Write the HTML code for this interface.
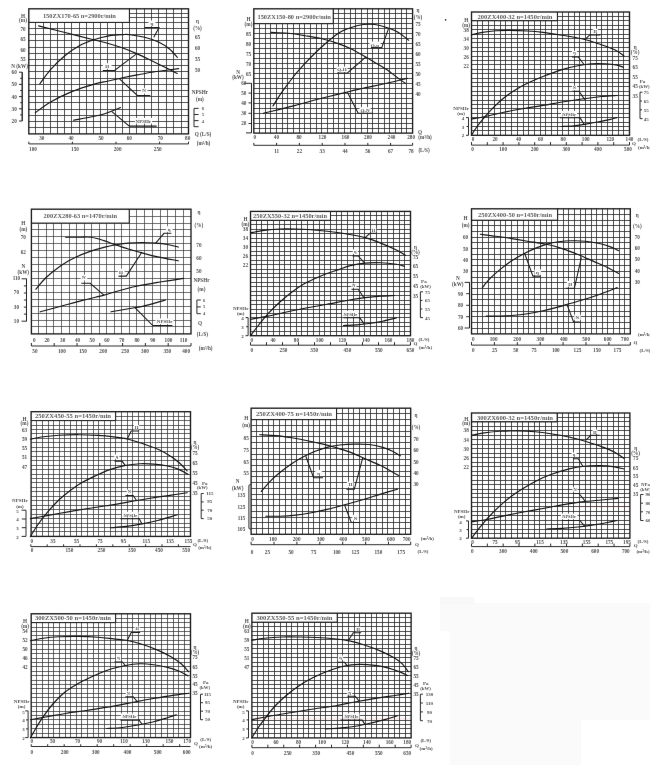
<!DOCTYPE html>
<html lang="zh"><head><meta charset="utf-8"><title>ZX pump performance curves</title>
<style>
html,body{margin:0;padding:0;background:#fff}
body{width:650px;height:765px;overflow:hidden;position:relative;font-family:"Liberation Serif","Noto Serif CJK SC",serif}
svg{position:absolute;left:0;top:0;display:block}
.g{fill:none}
.fr{fill:none;stroke:#1c1c1c}
.cv{fill:none;stroke:#161616;stroke-width:1.15;stroke-linecap:round;stroke-linejoin:round}
.ld{fill:none;stroke:#1c1c1c;stroke-width:1.05;stroke-linejoin:miter}
.ax{fill:none;stroke:#222;stroke-width:0.95}
.t{font-family:"Liberation Serif",serif;font-weight:bold;fill:#4e4e4e}
.s{font-family:"Liberation Serif",serif;font-weight:bold;fill:#5c5c5c}
</style></head><body>
<svg width="650" height="765" viewBox="0 0 650 765">
<defs><filter id="b" x="-2%" y="-2%" width="104%" height="104%"><feConvolveMatrix order="3" kernelMatrix="0.0009 0.0278 0.0009 0.0278 0.8852 0.0278 0.0009 0.0278 0.0009" divisor="1" edgeMode="none"/></filter></defs>
<rect width="650" height="765" fill="#fff"/>
<rect x="440" y="603" width="210" height="162" fill="#fafafa"/><rect x="440" y="597" width="34" height="7" fill="#f8f8f8"/><rect x="440" y="631" width="10" height="134" fill="#fff"/><rect x="581" y="720" width="69" height="45" fill="#fff"/><circle cx="445.6" cy="19.8" r="0.9" fill="#444"/>
<g filter="url(#b)">
<g>
<path class="g" d="M35.5 22.4V133.9M43.5 22.4V133.9M50.5 22.4V133.9M57.5 22.4V133.9M64.5 22.4V133.9M71.5 22.4V133.9M79.5 22.4V133.9M86.5 22.4V133.9M93.5 22.4V133.9M100.5 22.4V133.9M107.5 22.4V133.9M115.5 22.4V133.9M122.5 22.4V133.9M129.5 8.8V133.9M136.5 8.8V133.9M144.5 8.8V133.9M151.5 8.8V133.9M158.5 8.8V133.9M166.5 8.8V133.9M173.5 8.8V133.9M181.5 8.8V133.9M129.4 13.5H188.5M129.4 17.5H188.5M28.8 22.5H188.5M28.8 28.5H188.5M28.8 34.5H188.5M28.8 40.5H188.5M28.8 47.5H188.5M28.8 53.5H188.5M28.8 59.5H188.5M28.8 65.5H188.5M28.8 71.5H188.5M28.8 78.5H188.5M28.8 84.5H188.5M28.8 90.5H188.5M28.8 96.5H188.5M28.8 102.5H188.5M28.8 109.5H188.5M28.8 115.5H188.5M28.8 121.5H188.5M28.8 127.5H188.5" stroke="#262626" stroke-width="0.78"/>
<rect class="fr" x="28.8" y="8.8" width="159.7" height="125.1" stroke-width="1.35"/>
<path class="fr" d="M129.4 8.8V22.4M28.8 22.4H129.4" stroke-width="0.95"/>
<rect x="148.5" y="20.6" width="7" height="5.2" fill="#fbfbfb"/>
<rect x="103" y="63.2" width="8.5" height="5.6" fill="#fbfbfb"/>
<rect x="141" y="88.2" width="6.5" height="5.4" fill="#fbfbfb"/>
<rect x="135" y="118" width="17" height="5.6" fill="#fbfbfb"/>
<path class="ld" d="M153.8 37.3L159 27.5L144.6 27.5"/>
<path class="ld" d="M136.5 53.9L114.2 70.6L102.8 70.6"/>
<path class="ld" d="M119.5 78.8L137.3 95.5L150.3 95.5"/>
<path class="ld" d="M111.6 111.4L129.3 126.1L156.7 126.1"/>
<path class="cv" d="M38.6 25.9C43 27 55.85 30.18 65 32.5C74.15 34.82 86.28 37.97 93.5 39.8C100.72 41.63 103.42 42.13 108.3 43.5C113.18 44.87 117.97 46.27 122.8 48C127.63 49.73 132.47 51.77 137.3 53.9C142.13 56.03 146.93 58.45 151.8 60.8C156.67 63.15 162.25 65.88 166.5 68C170.75 70.12 175.5 72.58 177.3 73.5"/>
<path class="cv" d="M39.8 83.9C41.6 81.52 46.38 74.33 50.6 69.6C54.82 64.87 60.23 59.52 65.1 55.5C69.97 51.48 75.03 48.12 79.8 45.5C84.57 42.88 88.87 41.4 93.7 39.8C98.53 38.2 103.92 36.77 108.8 35.9C113.68 35.03 119.47 34.8 123 34.6C126.53 34.4 126.4 34.25 130 34.7C133.6 35.15 139.77 36.05 144.6 37.3C149.43 38.55 154.85 40.25 159 42.2C163.15 44.15 166.45 46.48 169.5 49C172.55 51.52 176 55.92 177.3 57.3"/>
<path class="cv" d="M35.3 112.7C37.85 110.92 44.42 105.55 50.6 102C56.78 98.45 65.12 94.38 72.4 91.4C79.68 88.42 88.32 85.83 94.3 84.1C100.28 82.37 103.55 82.05 108.3 81C113.05 79.95 117.97 78.82 122.8 77.8C127.63 76.78 132.47 75.83 137.3 74.9C142.13 73.97 146.93 72.98 151.8 72.2C156.67 71.42 162.02 70.8 166.5 70.2C170.98 69.6 176.67 68.87 178.7 68.6"/>
<path class="cv" d="M73.5 120.2C76.97 119.53 89.08 117.28 94.3 116.2C99.52 115.12 101.75 114.6 104.8 113.7C107.85 112.8 109.98 111.83 112.6 110.8C115.22 109.77 119.18 108.05 120.5 107.5"/>
<path class="ax" d="M28.8 143.9L188.5 143.9"/>
<path class="ax" d="M28.8 143.9L28.8 141.7"/>
<path class="ax" d="M72.4 143.9L72.4 141.7"/>
<path class="ax" d="M116 143.9L116 141.7"/>
<path class="ax" d="M159.6 143.9L159.6 141.7"/>
<path class="ax" d="M188.5 143.9L188.5 141.7"/>
<path class="ax" d="M22.2 72.2L22.2 121"/>
<path class="ax" d="M22.2 72.2L19 72.2"/>
<path class="ax" d="M22.2 84.4L19 84.4"/>
<path class="ax" d="M22.2 96.6L19 96.6"/>
<path class="ax" d="M22.2 108.8L19 108.8"/>
<path class="ax" d="M22.2 121L19 121"/>
<path class="ax" d="M22.2 72.2L22.2 121"/>
<path class="ax" d="M22.2 78.3L20.2 78.3"/>
<path class="ax" d="M22.2 90.5L20.2 90.5"/>
<path class="ax" d="M22.2 102.7L20.2 102.7"/>
<path class="ax" d="M22.2 114.9L20.2 114.9"/>
<path class="ax" d="M194 108.4L194 126.7"/>
<path class="ax" d="M194 108.4L198.6 108.4"/>
<path class="ax" d="M194 114.5L198.6 114.5"/>
<path class="ax" d="M194 120.6L198.6 120.6"/>
<path class="ax" d="M194 126.7L198.6 126.7"/>
<text class="s" x="79.4" y="17.6" font-size="5.8" text-anchor="middle" textLength="73" lengthAdjust="spacingAndGlyphs">150ZX170-65 n=2900r/min</text>
<text class="t" x="23" y="17.6" font-size="5.2" text-anchor="middle">H</text>
<text class="t" x="23" y="22.1" font-size="5.2" text-anchor="middle">(m)</text>
<text class="t" x="23" y="31.3" font-size="5.2" text-anchor="middle">70</text>
<text class="t" x="23" y="41.1" font-size="5.2" text-anchor="middle">65</text>
<text class="t" x="23" y="51.5" font-size="5.2" text-anchor="middle">60</text>
<text class="t" x="23" y="60.7" font-size="5.2" text-anchor="middle">55</text>
<text class="t" x="19.6" y="68" font-size="5.2" text-anchor="middle">N (kW)</text>
<text class="t" x="14.2" y="74.1" font-size="5.2" text-anchor="middle">60</text>
<text class="t" x="14.2" y="86.3" font-size="5.2" text-anchor="middle">50</text>
<text class="t" x="14.2" y="98.5" font-size="5.2" text-anchor="middle">40</text>
<text class="t" x="14.2" y="110.5" font-size="5.2" text-anchor="middle">30</text>
<text class="t" x="14.2" y="122.7" font-size="5.2" text-anchor="middle">20</text>
<text class="t" x="41.8" y="140.2" font-size="5.2" text-anchor="middle">30</text>
<text class="t" x="71" y="140.2" font-size="5.2" text-anchor="middle">40</text>
<text class="t" x="101" y="140.2" font-size="5.2" text-anchor="middle">50</text>
<text class="t" x="129.3" y="140.2" font-size="5.2" text-anchor="middle">60</text>
<text class="t" x="160.3" y="140.2" font-size="5.2" text-anchor="middle">70</text>
<text class="t" x="187.7" y="140.2" font-size="5.2" text-anchor="middle">80</text>
<text class="t" x="33" y="151.1" font-size="5.2" text-anchor="middle">100</text>
<text class="t" x="75" y="151.1" font-size="5.2" text-anchor="middle">150</text>
<text class="t" x="117.6" y="151.1" font-size="5.2" text-anchor="middle">200</text>
<text class="t" x="157.7" y="151.1" font-size="5.2" text-anchor="middle">250</text>
<text class="t" x="151.8" y="24.9" font-size="5" text-anchor="middle">η</text>
<text class="t" x="107.1" y="67.6" font-size="5" text-anchor="middle">H</text>
<text class="t" x="144" y="92.4" font-size="5" text-anchor="middle">N</text>
<text class="t" x="143.3" y="122.6" font-size="5" text-anchor="middle">NPSHr</text>
<text class="t" x="197.5" y="22.5" font-size="5.2" text-anchor="middle">η</text>
<text class="t" x="197.5" y="29.9" font-size="5.2" text-anchor="middle">(%)</text>
<text class="t" x="197.5" y="38.8" font-size="5.2" text-anchor="middle">65</text>
<text class="t" x="197.5" y="49.5" font-size="5.2" text-anchor="middle">60</text>
<text class="t" x="197.5" y="60.7" font-size="5.2" text-anchor="middle">55</text>
<text class="t" x="197.5" y="71.9" font-size="5.2" text-anchor="middle">50</text>
<text class="t" x="199.9" y="94.1" font-size="5.2" text-anchor="middle">NPSHr</text>
<text class="t" x="199.9" y="100.5" font-size="5.2" text-anchor="middle">(m)</text>
<text class="t" x="202.8" y="110.2" font-size="4.6" text-anchor="middle">6</text>
<text class="t" x="202.8" y="116.2" font-size="4.6" text-anchor="middle">5</text>
<text class="t" x="202.8" y="122.6" font-size="4.6" text-anchor="middle">4</text>
<text class="t" x="203" y="136.2" font-size="5.2" text-anchor="middle">Q (L/S)</text>
<text class="t" x="203.5" y="145.4" font-size="5.2" text-anchor="middle">(m³/h)</text>
</g>
<g>
<path class="g" d="M259.5 23.72V133.1M265.5 23.72V133.1M270.5 23.72V133.1M276.5 23.72V133.1M282.5 23.72V133.1M287.5 23.72V133.1M293.5 23.72V133.1M299.5 23.72V133.1M304.5 23.72V133.1M310.5 23.72V133.1M316.5 23.72V133.1M321.5 23.72V133.1M327.5 23.72V133.1M333.5 8.8V133.1M338.5 8.8V133.1M344.5 8.8V133.1M350.5 8.8V133.1M355.5 8.8V133.1M361.5 8.8V133.1M367.5 8.8V133.1M372.5 8.8V133.1M378.5 8.8V133.1M384.5 8.8V133.1M389.5 8.8V133.1M395.5 8.8V133.1M401.5 8.8V133.1M406.5 8.8V133.1M333.2 13.5H412.6M333.2 18.5H412.6M253.8 23.5H412.6M253.8 28.5H412.6M253.8 33.5H412.6M253.8 38.5H412.6M253.8 43.5H412.6M253.8 48.5H412.6M253.8 53.5H412.6M253.8 58.5H412.6M253.8 63.5H412.6M253.8 68.5H412.6M253.8 73.5H412.6M253.8 78.5H412.6M253.8 83.5H412.6M253.8 88.5H412.6M253.8 93.5H412.6M253.8 98.5H412.6M253.8 103.5H412.6M253.8 108.5H412.6M253.8 113.5H412.6M253.8 118.5H412.6M253.8 123.5H412.6M253.8 128.5H412.6" stroke="#262626" stroke-width="0.8"/>
<rect class="fr" x="253.8" y="8.8" width="158.8" height="124.3" stroke-width="1.35"/>
<path class="fr" d="M333.2 8.8V23.72M253.8 23.72H333.2" stroke-width="0.95"/>
<rect x="369.5" y="41.6" width="11" height="5.4" fill="#fbfbfb"/>
<rect x="336.5" y="66.6" width="11" height="5.4" fill="#fbfbfb"/>
<rect x="359.5" y="107.2" width="11" height="5.4" fill="#fbfbfb"/>
<path class="ld" d="M388.6 28.4L381.7 47.6L370.9 47.6"/>
<path class="ld" d="M366 56.9L347.4 72.9L337 72.9"/>
<path class="ld" d="M347.4 92.2L358.2 113.3L372.5 113.3"/>
<path class="cv" d="M271.1 32.4C273.87 32.55 282.08 32.75 287.7 33.3C293.32 33.85 299.08 34.78 304.8 35.7C310.52 36.62 316.2 37.4 322 38.8C327.8 40.2 334.72 42.4 339.6 44.1C344.48 45.8 347.38 47.1 351.3 49C355.22 50.9 359.17 53.27 363.1 55.5C367.03 57.73 370.98 60.05 374.9 62.4C378.82 64.75 382.68 66.93 386.6 69.6C390.52 72.27 395.28 76.12 398.4 78.4C401.52 80.68 404.15 82.48 405.3 83.3"/>
<path class="cv" d="M273 105.9C274.48 103.62 278.47 97.1 281.9 92.2C285.33 87.3 289.78 81.25 293.6 76.5C297.42 71.75 301.03 67.78 304.8 63.7C308.57 59.62 312.27 55.78 316.2 52C320.13 48.22 324.5 44.27 328.4 41C332.3 37.73 335.78 34.65 339.6 32.4C343.42 30.15 347.38 28.82 351.3 27.5C355.22 26.18 359.17 25 363.1 24.5C367.03 24 370.98 24 374.9 24.5C378.82 25 382.68 26.18 386.6 27.5C390.52 28.82 394.73 30.28 398.4 32.4C402.07 34.52 406.9 38.9 408.6 40.2"/>
<path class="cv" d="M263.2 113.3C265.33 112.78 270.93 111.43 276 110.2C281.07 108.97 287.72 107.43 293.6 105.9C299.48 104.37 305.42 102.57 311.3 101C317.18 99.43 322.37 98.13 328.9 96.5C335.43 94.87 344.8 92.58 350.5 91.2C356.2 89.82 357.08 89.52 363.1 88.2C369.12 86.88 379.25 84.93 386.6 83.3C393.95 81.67 403.77 79.22 407.2 78.4"/>
<path class="ax" d="M253.8 145.3L412.6 145.3"/>
<path class="ax" d="M253.8 145.3L253.8 142.9"/>
<path class="ax" d="M276.6 145.3L276.6 142.9"/>
<path class="ax" d="M299.4 145.3L299.4 142.9"/>
<path class="ax" d="M322.2 145.3L322.2 142.9"/>
<path class="ax" d="M345 145.3L345 142.9"/>
<path class="ax" d="M367.8 145.3L367.8 142.9"/>
<path class="ax" d="M390.6 145.3L390.6 142.9"/>
<path class="ax" d="M412.6 145.3L412.6 142.9"/>
<path class="ax" d="M244.6 83.3L251.5 83.3L251.5 132.9L246 132.9"/>
<path class="ax" d="M251.5 83.3L251.5 132.9"/>
<path class="ax" d="M251.5 93.1L248.5 93.1"/>
<path class="ax" d="M251.5 102.9L248.5 102.9"/>
<path class="ax" d="M251.5 113.3L248.5 113.3"/>
<path class="ax" d="M251.5 123.5L248.5 123.5"/>
<text class="s" x="294.2" y="18.6" font-size="5.8" text-anchor="middle" textLength="73.5" lengthAdjust="spacingAndGlyphs">150ZX150-80 n=2900r/min</text>
<text class="t" x="248.5" y="20.5" font-size="5.2" text-anchor="middle">H</text>
<text class="t" x="248.5" y="26.4" font-size="5.2" text-anchor="middle">(m)</text>
<text class="t" x="248.5" y="35.6" font-size="5.2" text-anchor="middle">85</text>
<text class="t" x="248.5" y="46" font-size="5.2" text-anchor="middle">80</text>
<text class="t" x="248.5" y="56.4" font-size="5.2" text-anchor="middle">75</text>
<text class="t" x="248.5" y="66.2" font-size="5.2" text-anchor="middle">70</text>
<text class="t" x="248.5" y="76.4" font-size="5.2" text-anchor="middle">65</text>
<text class="t" x="238" y="73.5" font-size="5.2" text-anchor="middle">N</text>
<text class="t" x="238" y="79.4" font-size="5.2" text-anchor="middle">(kW)</text>
<text class="t" x="243.8" y="85.2" font-size="5.2" text-anchor="middle">60</text>
<text class="t" x="243.8" y="95" font-size="5.2" text-anchor="middle">50</text>
<text class="t" x="243.8" y="104.8" font-size="5.2" text-anchor="middle">40</text>
<text class="t" x="243.8" y="115.2" font-size="5.2" text-anchor="middle">30</text>
<text class="t" x="243.8" y="125.4" font-size="5.2" text-anchor="middle">20</text>
<text class="t" x="254.8" y="139.2" font-size="5.2" text-anchor="middle">0</text>
<text class="t" x="276.4" y="139.2" font-size="5.2" text-anchor="middle">40</text>
<text class="t" x="299.1" y="139.2" font-size="5.2" text-anchor="middle">80</text>
<text class="t" x="322.5" y="139.2" font-size="5.2" text-anchor="middle">120</text>
<text class="t" x="345.5" y="139.2" font-size="5.2" text-anchor="middle">160</text>
<text class="t" x="368" y="139.2" font-size="5.2" text-anchor="middle">200</text>
<text class="t" x="391.5" y="139.2" font-size="5.2" text-anchor="middle">240</text>
<text class="t" x="411.1" y="139.2" font-size="5.2" text-anchor="middle">280</text>
<text class="t" x="276.6" y="153.1" font-size="5.2" text-anchor="middle">11</text>
<text class="t" x="299.4" y="153.1" font-size="5.2" text-anchor="middle">22</text>
<text class="t" x="322.2" y="153.1" font-size="5.2" text-anchor="middle">33</text>
<text class="t" x="345" y="153.1" font-size="5.2" text-anchor="middle">44</text>
<text class="t" x="367.8" y="153.1" font-size="5.2" text-anchor="middle">56</text>
<text class="t" x="390.6" y="153.1" font-size="5.2" text-anchor="middle">67</text>
<text class="t" x="411" y="153.1" font-size="5.2" text-anchor="middle">78</text>
<text class="t" x="374.9" y="46.5" font-size="5" text-anchor="middle">Q-η</text>
<text class="t" x="341.9" y="71.4" font-size="5" text-anchor="middle">Q-H</text>
<text class="t" x="365" y="112" font-size="5" text-anchor="middle">Q-N</text>
<text class="t" x="418" y="11.7" font-size="5.2" text-anchor="middle">η</text>
<text class="t" x="418" y="18.6" font-size="5.2" text-anchor="middle">(%)</text>
<text class="t" x="418" y="26.4" font-size="5.2" text-anchor="middle">75</text>
<text class="t" x="418" y="36.2" font-size="5.2" text-anchor="middle">70</text>
<text class="t" x="418" y="46" font-size="5.2" text-anchor="middle">65</text>
<text class="t" x="418" y="55.8" font-size="5.2" text-anchor="middle">60</text>
<text class="t" x="418" y="66" font-size="5.2" text-anchor="middle">55</text>
<text class="t" x="418" y="76" font-size="5.2" text-anchor="middle">50</text>
<text class="t" x="418" y="85.8" font-size="5.2" text-anchor="middle">45</text>
<text class="t" x="418" y="96" font-size="5.2" text-anchor="middle">40</text>
<text class="t" x="420" y="133.7" font-size="5.2" text-anchor="middle">Q</text>
<text class="t" x="425" y="139.2" font-size="5.2" text-anchor="middle">(m³/h)</text>
<text class="t" x="424" y="151.8" font-size="5.2" text-anchor="middle">(L/S)</text>
</g>
<g>
<path class="g" d="M477.5 20.81V135.3M482.5 20.81V135.3M488.5 20.81V135.3M494.5 20.81V135.3M500.5 20.81V135.3M505.5 20.81V135.3M511.5 20.81V135.3M517.5 20.81V135.3M523.5 20.81V135.3M528.5 20.81V135.3M534.5 20.81V135.3M540.5 20.81V135.3M545.5 20.81V135.3M551.5 20.81V135.3M557.5 12V135.3M562.5 12V135.3M568.5 12V135.3M574.5 12V135.3M579.5 12V135.3M585.5 12V135.3M590.5 12V135.3M596.5 12V135.3M601.5 12V135.3M607.5 12V135.3M612.5 12V135.3M618.5 12V135.3M623.5 12V135.3M557.4 16.5H629.5M471.5 20.5H629.5M471.5 25.5H629.5M471.5 29.5H629.5M471.5 34.5H629.5M471.5 38.5H629.5M471.5 42.5H629.5M471.5 47.5H629.5M471.5 51.5H629.5M471.5 56.5H629.5M471.5 60.5H629.5M471.5 64.5H629.5M471.5 69.5H629.5M471.5 73.5H629.5M471.5 78.5H629.5M471.5 82.5H629.5M471.5 86.5H629.5M471.5 91.5H629.5M471.5 95.5H629.5M471.5 100.5H629.5M471.5 104.5H629.5M471.5 108.5H629.5M471.5 113.5H629.5M471.5 117.5H629.5M471.5 122.5H629.5M471.5 126.5H629.5M471.5 130.5H629.5" stroke="#262626" stroke-width="0.8"/>
<rect class="fr" x="471.5" y="12" width="158" height="123.3" stroke-width="1.35"/>
<path class="fr" d="M557.4 12V20.81M471.5 20.81H557.4" stroke-width="0.95"/>
<rect x="592.8" y="28.8" width="5" height="4.4" fill="#fbfbfb"/>
<rect x="572" y="50.8" width="5" height="4.4" fill="#fbfbfb"/>
<rect x="572" y="85.8" width="5" height="4.4" fill="#fbfbfb"/>
<rect x="561" y="111" width="16" height="5.6" fill="#fbfbfb"/>
<path class="ld" d="M585.4 39.2L589.7 34.9L600.5 34.9"/>
<path class="ld" d="M583.8 64.3L578.3 56.9L572 56.9"/>
<path class="ld" d="M584.8 99.6L578.9 91.2L572.5 91.2"/>
<path class="ld" d="M584.2 124.5L579.9 117.6L560 117.6"/>
<path class="cv" d="M471.5 34.9C473.3 34.48 478.22 33.08 482.3 32.4C486.38 31.72 491.43 31.13 496 30.8C500.57 30.47 504.47 30.37 509.7 30.4C514.93 30.43 521.85 30.67 527.4 31C532.95 31.33 537.2 31.68 543 32.4C548.8 33.12 555.73 34.23 562.2 35.3C568.67 36.37 575.27 37.23 581.8 38.8C588.33 40.37 595.83 42.83 601.4 44.7C606.97 46.57 611.43 48.13 615.2 50C618.97 51.87 622.53 54.92 624 55.9"/>
<path class="cv" d="M471.5 135.3C472.32 134 474.28 130.45 476.4 127.5C478.52 124.55 481.27 121.03 484.2 117.6C487.13 114.17 490.73 110.17 494 106.9C497.27 103.63 500.2 100.85 503.8 98C507.4 95.15 511.67 92.25 515.6 89.8C519.53 87.35 522.83 85.52 527.4 83.3C531.97 81.08 537.2 78.78 543 76.5C548.8 74.22 556.38 71.4 562.2 69.6C568.02 67.8 573 66.68 577.9 65.7C582.8 64.72 587.02 64.03 591.6 63.7C596.18 63.37 601.15 63.47 605.4 63.7C609.65 63.93 614.1 64.5 617.1 65.1C620.1 65.7 622.35 66.93 623.4 67.3"/>
<path class="cv" d="M471.5 119C473.62 118.62 478.82 117.83 484.2 116.7C489.58 115.57 497.27 113.55 503.8 112.2C510.33 110.85 516.87 109.73 523.4 108.6C529.93 107.47 536.53 106.5 543 105.4C549.47 104.3 555.73 103.07 562.2 102C568.67 100.93 575.27 99.92 581.8 99C588.33 98.08 595.52 97.08 601.4 96.5C607.28 95.92 614.48 95.67 617.1 95.5"/>
<path class="cv" d="M561.2 126.5C563.33 126.4 569.92 126.3 574 125.9C578.08 125.5 581.78 124.75 585.7 124.1C589.62 123.45 593.57 122.75 597.5 122C601.43 121.25 606.1 120.33 609.3 119.6C612.5 118.87 615.47 117.93 616.7 117.6"/>
<path class="ax" d="M471.5 145.1L629.5 145.1"/>
<path class="ax" d="M471.5 145.1L471.5 142.1"/>
<path class="ax" d="M487.3 145.1L487.3 142.1"/>
<path class="ax" d="M503.1 145.1L503.1 142.1"/>
<path class="ax" d="M518.9 145.1L518.9 142.1"/>
<path class="ax" d="M534.7 145.1L534.7 142.1"/>
<path class="ax" d="M550.5 145.1L550.5 142.1"/>
<path class="ax" d="M566.3 145.1L566.3 142.1"/>
<path class="ax" d="M582.1 145.1L582.1 142.1"/>
<path class="ax" d="M597.9 145.1L597.9 142.1"/>
<path class="ax" d="M613.7 145.1L613.7 142.1"/>
<path class="ax" d="M629.5 145.1L629.5 142.1"/>
<path class="ax" d="M466 117.6L468.5 117.6L468.5 135.3L466 135.3"/>
<path class="ax" d="M468.5 126.5L466.5 126.5"/>
<path class="ax" d="M642.5 92.2L640 92.2L640 118.6L642.5 118.6"/>
<path class="ax" d="M640 101L642 101"/>
<path class="ax" d="M640 109.8L642 109.8"/>
<text class="s" x="515" y="19.2" font-size="5.8" text-anchor="middle" textLength="75" lengthAdjust="spacingAndGlyphs">200ZX400-32  n=1450r/min</text>
<text class="t" x="466.2" y="21.5" font-size="5.2" text-anchor="middle">H</text>
<text class="t" x="466.2" y="27" font-size="5.2" text-anchor="middle">(m)</text>
<text class="t" x="466.2" y="32.3" font-size="5.2" text-anchor="middle">38</text>
<text class="t" x="466.2" y="41.1" font-size="5.2" text-anchor="middle">34</text>
<text class="t" x="466.2" y="49.9" font-size="5.2" text-anchor="middle">30</text>
<text class="t" x="466.2" y="58.8" font-size="5.2" text-anchor="middle">26</text>
<text class="t" x="466.2" y="67.6" font-size="5.2" text-anchor="middle">22</text>
<text class="t" x="461.1" y="109.7" font-size="5" text-anchor="middle">NPSHr</text>
<text class="t" x="461.1" y="115" font-size="5" text-anchor="middle">(m)</text>
<text class="t" x="463" y="120.3" font-size="5" text-anchor="middle">4</text>
<text class="t" x="463" y="128.8" font-size="5" text-anchor="middle">3</text>
<text class="t" x="463" y="137.2" font-size="5" text-anchor="middle">2</text>
<text class="t" x="473" y="141.1" font-size="5.2" text-anchor="middle">0</text>
<text class="t" x="495" y="141.1" font-size="5.2" text-anchor="middle">20</text>
<text class="t" x="518.5" y="141.1" font-size="5.2" text-anchor="middle">40</text>
<text class="t" x="540.5" y="141.1" font-size="5.2" text-anchor="middle">60</text>
<text class="t" x="563.2" y="141.1" font-size="5.2" text-anchor="middle">80</text>
<text class="t" x="585.7" y="141.1" font-size="5.2" text-anchor="middle">100</text>
<text class="t" x="610.3" y="141.1" font-size="5.2" text-anchor="middle">120</text>
<text class="t" x="629.5" y="141.1" font-size="5.2" text-anchor="middle">140</text>
<text class="t" x="472.5" y="150.5" font-size="5.2" text-anchor="middle">0</text>
<text class="t" x="503.1" y="150.5" font-size="5.2" text-anchor="middle">100</text>
<text class="t" x="534.7" y="150.5" font-size="5.2" text-anchor="middle">200</text>
<text class="t" x="566.3" y="150.5" font-size="5.2" text-anchor="middle">300</text>
<text class="t" x="597.9" y="150.5" font-size="5.2" text-anchor="middle">400</text>
<text class="t" x="628" y="150.5" font-size="5.2" text-anchor="middle">500</text>
<text class="t" x="595.2" y="32.7" font-size="4.4" text-anchor="middle" fill="#666">H</text>
<text class="t" x="574.4" y="54.4" font-size="4.4" text-anchor="middle" fill="#666">η</text>
<text class="t" x="574.4" y="89.2" font-size="4.4" text-anchor="middle" fill="#666">N</text>
<text class="t" x="569.1" y="115.6" font-size="4.4" text-anchor="middle" fill="#666">NPSHr</text>
<text class="t" x="635.2" y="49" font-size="5.2" text-anchor="middle">η</text>
<text class="t" x="635.2" y="54.4" font-size="5.2" text-anchor="middle">(%)</text>
<text class="t" x="635.2" y="59.7" font-size="5.2" text-anchor="middle">75</text>
<text class="t" x="635.2" y="69.2" font-size="5.2" text-anchor="middle">65</text>
<text class="t" x="635.2" y="79" font-size="5.2" text-anchor="middle">55</text>
<text class="t" x="635.2" y="88.2" font-size="5.2" text-anchor="middle">45</text>
<text class="t" x="635.2" y="98.4" font-size="5.2" text-anchor="middle">35</text>
<text class="t" x="642.5" y="83.3" font-size="5" text-anchor="middle">Pa</text>
<text class="t" x="644.3" y="88.2" font-size="4.8" text-anchor="middle">(kW)</text>
<text class="t" x="646.3" y="94.1" font-size="5" text-anchor="middle">75</text>
<text class="t" x="646.3" y="102.9" font-size="5" text-anchor="middle">65</text>
<text class="t" x="646.3" y="111.7" font-size="5" text-anchor="middle">55</text>
<text class="t" x="646.3" y="120.5" font-size="5" text-anchor="middle">45</text>
<text class="t" x="643" y="141" font-size="5" text-anchor="middle">(L/S)</text>
<text class="t" x="634" y="145" font-size="5" text-anchor="middle">Q</text>
<text class="t" x="644.6" y="148.6" font-size="5" text-anchor="middle">(m³/h)</text>
</g>
<g>
<path class="g" d="M38.5 223.06V333.9M46.5 223.06V333.9M53.5 223.06V333.9M61.5 223.06V333.9M69.5 223.06V333.9M76.5 223.06V333.9M84.5 223.06V333.9M91.5 223.06V333.9M99.5 223.06V333.9M106.5 223.06V333.9M114.5 223.06V333.9M121.5 223.06V333.9M129.5 209.2V333.9M136.5 209.2V333.9M144.5 209.2V333.9M152.5 209.2V333.9M160.5 209.2V333.9M167.5 209.2V333.9M175.5 209.2V333.9M183.5 209.2V333.9M129.2 216.5H191M31.4 223.5H191M31.4 229.5H191M31.4 236.5H191M31.4 243.5H191M31.4 250.5H191M31.4 257.5H191M31.4 264.5H191M31.4 271.5H191M31.4 278.5H191M31.4 285.5H191M31.4 292.5H191M31.4 299.5H191M31.4 306.5H191M31.4 313.5H191M31.4 320.5H191M31.4 326.5H191" stroke="#333" stroke-width="0.7"/>
<rect class="fr" x="31.4" y="209.2" width="159.6" height="124.7" stroke-width="1.35"/>
<path class="fr" d="M129.2 209.2V223.06M31.4 223.06H129.2" stroke-width="0.95"/>
<rect x="166" y="226.3" width="6.5" height="5.6" fill="#fbfbfb"/>
<rect x="118" y="268.8" width="6.5" height="5.6" fill="#fbfbfb"/>
<rect x="80.7" y="274.8" width="6.5" height="5.6" fill="#fbfbfb"/>
<rect x="155.5" y="318.4" width="18" height="5.6" fill="#fbfbfb"/>
<path class="ld" d="M155.7 243.1L164 233.3L171.4 233.3"/>
<path class="ld" d="M142 252L126.3 276.1L118.5 276.1"/>
<path class="ld" d="M103.9 295.1L90.2 283.3L81.4 283.3"/>
<path class="ld" d="M135.2 307.8L152.8 325.5L172.4 325.5"/>
<path class="cv" d="M65.7 237.3C68.08 237.28 75.75 237.2 80 237.2C84.25 237.2 87.22 236.73 91.2 237.3C95.18 237.87 100.17 239.47 103.9 240.6C107.63 241.73 109.53 242.7 113.6 244.1C117.67 245.5 123.57 247.53 128.3 249C133.03 250.47 137.1 251.58 142 252.9C146.9 254.22 151.65 255.58 157.7 256.9C163.75 258.22 174.87 260.15 178.3 260.8"/>
<path class="cv" d="M35.9 289.2C37.6 287.25 41.95 281.42 46.1 277.5C50.25 273.58 55.9 269.07 60.8 265.7C65.7 262.33 70.6 259.68 75.5 257.3C80.4 254.92 85.3 253.1 90.2 251.4C95.1 249.7 100.33 248.25 104.9 247.1C109.47 245.95 113.7 245.17 117.6 244.5C121.5 243.83 124.23 243.43 128.3 243.1C132.37 242.77 137.43 242.5 142 242.5C146.57 242.5 151.45 242.77 155.7 243.1C159.95 243.43 163.73 243.83 167.5 244.5C171.27 245.17 176.5 246.67 178.3 247.1"/>
<path class="cv" d="M40.2 311.8C43.63 310.88 53.77 308.2 60.8 306.3C67.83 304.4 75.22 302.27 82.4 300.4C89.58 298.53 98.7 296.47 103.9 295.1C109.1 293.73 108.17 293.67 113.6 292.2C119.03 290.73 128.77 288 136.5 286.3C144.23 284.6 152.15 283.32 160 282C167.85 280.68 179.67 279 183.6 278.4"/>
<path class="cv" d="M111 311.8C113.88 311.3 122.73 309.78 128.3 308.8C133.87 307.82 139.83 306.88 144.4 305.9C148.97 304.92 152.18 303.88 155.7 302.9C159.22 301.92 163.87 300.48 165.5 300"/>
<path class="ax" d="M31.4 346L191 346"/>
<path class="ax" d="M31.4 346L31.4 343"/>
<path class="ax" d="M54.2 346L54.2 343"/>
<path class="ax" d="M77 346L77 343"/>
<path class="ax" d="M99.8 346L99.8 343"/>
<path class="ax" d="M122.6 346L122.6 343"/>
<path class="ax" d="M145.4 346L145.4 343"/>
<path class="ax" d="M168.2 346L168.2 343"/>
<path class="ax" d="M191 346L191 343"/>
<path class="ax" d="M21.6 278.8L26.5 278.8L26.5 321.2L21.6 321.2"/>
<path class="ax" d="M26.5 278.8L26.5 321.2"/>
<path class="ax" d="M26.5 285.9L23.9 285.9"/>
<path class="ax" d="M26.5 293L23.9 293"/>
<path class="ax" d="M26.5 300L23.9 300"/>
<path class="ax" d="M26.5 307.1L23.9 307.1"/>
<path class="ax" d="M26.5 314.1L23.9 314.1"/>
<path class="ax" d="M200.8 300L196.9 300L196.9 313.7L200.8 313.7"/>
<path class="ax" d="M196.9 306.9L200.8 306.9"/>
<text class="s" x="80.3" y="218" font-size="5.8" text-anchor="middle" textLength="73.5" lengthAdjust="spacingAndGlyphs">200ZX280-63 n=1470r/min</text>
<text class="t" x="23.3" y="225.4" font-size="5.2" text-anchor="middle">H</text>
<text class="t" x="23.3" y="231.3" font-size="5.2" text-anchor="middle">(m)</text>
<text class="t" x="23.3" y="239.2" font-size="5.2" text-anchor="middle">70</text>
<text class="t" x="23.3" y="253.9" font-size="5.2" text-anchor="middle">62</text>
<text class="t" x="23.3" y="267.6" font-size="5.2" text-anchor="middle">N</text>
<text class="t" x="23.3" y="273.5" font-size="5.2" text-anchor="middle">(kW)</text>
<text class="t" x="16.4" y="280.3" font-size="5.2" text-anchor="middle">110</text>
<text class="t" x="16.4" y="294.4" font-size="5.2" text-anchor="middle">70</text>
<text class="t" x="16.4" y="308.8" font-size="5.2" text-anchor="middle">30</text>
<text class="t" x="16.4" y="323.1" font-size="5.2" text-anchor="middle">10</text>
<text class="t" x="34.3" y="341.5" font-size="5.2" text-anchor="middle">0</text>
<text class="t" x="47" y="341.5" font-size="5.2" text-anchor="middle">20</text>
<text class="t" x="62.7" y="341.5" font-size="5.2" text-anchor="middle">30</text>
<text class="t" x="77.5" y="341.5" font-size="5.2" text-anchor="middle">40</text>
<text class="t" x="92.2" y="341.5" font-size="5.2" text-anchor="middle">50</text>
<text class="t" x="106.9" y="341.5" font-size="5.2" text-anchor="middle">60</text>
<text class="t" x="121.8" y="341.5" font-size="5.2" text-anchor="middle">70</text>
<text class="t" x="137.1" y="341.5" font-size="5.2" text-anchor="middle">80</text>
<text class="t" x="152.8" y="341.5" font-size="5.2" text-anchor="middle">90</text>
<text class="t" x="168.5" y="341.5" font-size="5.2" text-anchor="middle">100</text>
<text class="t" x="183.6" y="341.5" font-size="5.2" text-anchor="middle">110</text>
<text class="t" x="34.9" y="352.7" font-size="5.2" text-anchor="middle">50</text>
<text class="t" x="61.9" y="352.7" font-size="5.2" text-anchor="middle">100</text>
<text class="t" x="82.9" y="352.7" font-size="5.2" text-anchor="middle">150</text>
<text class="t" x="103.2" y="352.7" font-size="5.2" text-anchor="middle">200</text>
<text class="t" x="125.2" y="352.7" font-size="5.2" text-anchor="middle">250</text>
<text class="t" x="145" y="352.7" font-size="5.2" text-anchor="middle">300</text>
<text class="t" x="167.3" y="352.7" font-size="5.2" text-anchor="middle">350</text>
<text class="t" x="186.1" y="352.7" font-size="5.2" text-anchor="middle">400</text>
<text class="t" x="169.1" y="231" font-size="5" text-anchor="middle">η</text>
<text class="t" x="121" y="273.5" font-size="5" text-anchor="middle">H</text>
<text class="t" x="83.9" y="279.4" font-size="5" text-anchor="middle">N</text>
<text class="t" x="164.6" y="323.1" font-size="5" text-anchor="middle">NPSHr</text>
<text class="t" x="198.9" y="214.1" font-size="5.2" text-anchor="middle">η</text>
<text class="t" x="198.9" y="227.4" font-size="5.2" text-anchor="middle">(%)</text>
<text class="t" x="198.9" y="246.6" font-size="5.2" text-anchor="middle">70</text>
<text class="t" x="198.9" y="260.1" font-size="5.2" text-anchor="middle">60</text>
<text class="t" x="198.9" y="273.1" font-size="5.2" text-anchor="middle">50</text>
<text class="t" x="201.5" y="281.7" font-size="5.2" text-anchor="middle">NPSHr</text>
<text class="t" x="201.5" y="290.5" font-size="5.2" text-anchor="middle">(m)</text>
<text class="t" x="204.2" y="301.6" font-size="4.6" text-anchor="middle">6</text>
<text class="t" x="204.2" y="308.2" font-size="4.6" text-anchor="middle">5</text>
<text class="t" x="204.2" y="314.5" font-size="4.6" text-anchor="middle">4</text>
<text class="t" x="199.9" y="325.4" font-size="5.2" text-anchor="middle">Q</text>
<text class="t" x="202.4" y="335.8" font-size="5.2" text-anchor="middle">(L/S)</text>
<text class="t" x="205.7" y="350.3" font-size="5.2" text-anchor="middle">(m³/h)</text>
</g>
<g>
<path class="g" d="M256.5 220.28V335.7M261.5 220.28V335.7M267.5 220.28V335.7M273.5 220.28V335.7M279.5 220.28V335.7M284.5 220.28V335.7M290.5 220.28V335.7M296.5 220.28V335.7M301.5 220.28V335.7M307.5 220.28V335.7M313.5 220.28V335.7M319.5 220.28V335.7M324.5 220.28V335.7M330.5 211.4V335.7M336.5 211.4V335.7M341.5 211.4V335.7M347.5 211.4V335.7M353.5 211.4V335.7M359.5 211.4V335.7M364.5 211.4V335.7M370.5 211.4V335.7M376.5 211.4V335.7M381.5 211.4V335.7M387.5 211.4V335.7M393.5 211.4V335.7M399.5 211.4V335.7M404.5 211.4V335.7M330.5 215.5H410.5M250.5 220.5H410.5M250.5 224.5H410.5M250.5 229.5H410.5M250.5 233.5H410.5M250.5 238.5H410.5M250.5 242.5H410.5M250.5 246.5H410.5M250.5 251.5H410.5M250.5 255.5H410.5M250.5 260.5H410.5M250.5 264.5H410.5M250.5 269.5H410.5M250.5 273.5H410.5M250.5 277.5H410.5M250.5 282.5H410.5M250.5 286.5H410.5M250.5 291.5H410.5M250.5 295.5H410.5M250.5 300.5H410.5M250.5 304.5H410.5M250.5 309.5H410.5M250.5 313.5H410.5M250.5 317.5H410.5M250.5 322.5H410.5M250.5 326.5H410.5M250.5 331.5H410.5" stroke="#262626" stroke-width="0.8"/>
<rect class="fr" x="250.5" y="211.4" width="160" height="124.3" stroke-width="1.35"/>
<path class="fr" d="M330.5 211.4V220.28M250.5 220.28H330.5" stroke-width="0.95"/>
<rect x="371.2" y="227.6" width="5" height="4.4" fill="#fbfbfb"/>
<rect x="352.8" y="249.4" width="5" height="4.4" fill="#fbfbfb"/>
<rect x="351.4" y="283.3" width="5" height="4.4" fill="#fbfbfb"/>
<rect x="342" y="310.9" width="16.5" height="5.6" fill="#fbfbfb"/>
<path class="ld" d="M365.1 237.6L370 233.3L376.5 233.3"/>
<path class="ld" d="M364.7 263.1L358.2 255.9L352.5 255.9"/>
<path class="ld" d="M364.1 298L358.2 289.2L351.5 289.2"/>
<path class="ld" d="M364.1 323.9L359.6 317.6L343.5 317.6"/>
<path class="cv" d="M250.5 232.9C252.78 232.48 259.3 231.05 264.2 230.4C269.1 229.75 274.67 229.23 279.9 229C285.13 228.77 290.37 228.87 295.6 229C300.83 229.13 306.07 229.43 311.3 229.8C316.53 230.17 321.78 230.62 327 231.2C332.22 231.78 336.25 232.23 342.6 233.3C348.95 234.37 358.75 235.97 365.1 237.6C371.45 239.23 375.48 241.03 380.7 243.1C385.92 245.17 392.3 247.97 396.4 250C400.5 252.03 403.82 254.42 405.3 255.3"/>
<path class="cv" d="M250.5 335.7C251.8 334 255.37 329.17 258.3 325.5C261.23 321.83 264.5 317.62 268.1 313.7C271.7 309.78 275.97 305.58 279.9 302C283.83 298.42 287.78 295.15 291.7 292.2C295.62 289.25 299.48 286.6 303.4 284.3C307.32 282 311.27 280.2 315.2 278.4C319.13 276.6 323.08 274.97 327 273.5C330.92 272.03 334.97 270.87 338.7 269.6C342.43 268.33 345 266.98 349.4 265.9C353.8 264.82 359.88 263.63 365.1 263.1C370.32 262.57 375.48 262.5 380.7 262.7C385.92 262.9 392.47 263.7 396.4 264.3C400.33 264.9 402.98 265.97 404.3 266.3"/>
<path class="cv" d="M250.5 319.2C253.43 318.68 261.9 317.33 268.1 316.1C274.3 314.87 281.15 313.18 287.7 311.8C294.25 310.42 300.85 309.05 307.4 307.8C313.95 306.55 320 305.6 327 304.3C334 303 343.05 301.12 349.4 300C355.75 298.88 359.88 298.25 365.1 297.6C370.32 296.95 375.8 296.45 380.7 296.1C385.6 295.75 392.2 295.6 394.5 295.5"/>
<path class="cv" d="M343.5 325.5C345.78 325.4 352.95 325.23 357.2 324.9C361.45 324.57 364.75 324.12 369 323.5C373.25 322.88 378.13 322.12 382.7 321.2C387.27 320.28 394.12 318.53 396.4 318"/>
<path class="ax" d="M250.5 345.2L410.5 345.2"/>
<path class="ax" d="M250.5 345.2L250.5 342.2"/>
<path class="ax" d="M266.5 345.2L266.5 342.2"/>
<path class="ax" d="M282.5 345.2L282.5 342.2"/>
<path class="ax" d="M298.5 345.2L298.5 342.2"/>
<path class="ax" d="M314.5 345.2L314.5 342.2"/>
<path class="ax" d="M330.5 345.2L330.5 342.2"/>
<path class="ax" d="M346.5 345.2L346.5 342.2"/>
<path class="ax" d="M362.5 345.2L362.5 342.2"/>
<path class="ax" d="M378.5 345.2L378.5 342.2"/>
<path class="ax" d="M394.5 345.2L394.5 342.2"/>
<path class="ax" d="M410.5 345.2L410.5 342.2"/>
<path class="ax" d="M245.6 317.6L248.1 317.6L248.1 335.7L245.6 335.7"/>
<path class="ax" d="M248.1 326.7L246.1 326.7"/>
<path class="ax" d="M423 291.8L420.4 291.8L420.4 317.6L423 317.6"/>
<path class="ax" d="M420.4 300.4L422.4 300.4"/>
<path class="ax" d="M420.4 309L422.4 309"/>
<text class="s" x="290" y="217.6" font-size="5.8" text-anchor="middle" textLength="74" lengthAdjust="spacingAndGlyphs">250ZX550-32 n=1450r/min</text>
<text class="t" x="245.4" y="220.9" font-size="5.2" text-anchor="middle">H</text>
<text class="t" x="245.4" y="225.8" font-size="5.2" text-anchor="middle">(m)</text>
<text class="t" x="245.4" y="231.3" font-size="5.2" text-anchor="middle">38</text>
<text class="t" x="245.4" y="240.1" font-size="5.2" text-anchor="middle">34</text>
<text class="t" x="245.4" y="249" font-size="5.2" text-anchor="middle">30</text>
<text class="t" x="245.4" y="257.8" font-size="5.2" text-anchor="middle">26</text>
<text class="t" x="245.4" y="266.6" font-size="5.2" text-anchor="middle">22</text>
<text class="t" x="240.7" y="309.7" font-size="5" text-anchor="middle">NPSHr</text>
<text class="t" x="240.7" y="314.6" font-size="5" text-anchor="middle">(m)</text>
<text class="t" x="242.6" y="320.3" font-size="5" text-anchor="middle">4</text>
<text class="t" x="242.6" y="328.8" font-size="5" text-anchor="middle">3</text>
<text class="t" x="242.6" y="337.6" font-size="5" text-anchor="middle">2</text>
<text class="t" x="251.8" y="341.7" font-size="5.2" text-anchor="middle">0</text>
<text class="t" x="273.1" y="341.7" font-size="5.2" text-anchor="middle">40</text>
<text class="t" x="296.4" y="341.7" font-size="5.2" text-anchor="middle">80</text>
<text class="t" x="319.7" y="341.7" font-size="5.2" text-anchor="middle">100</text>
<text class="t" x="342.3" y="341.7" font-size="5.2" text-anchor="middle">120</text>
<text class="t" x="365.9" y="341.7" font-size="5.2" text-anchor="middle">140</text>
<text class="t" x="388.5" y="341.7" font-size="5.2" text-anchor="middle">160</text>
<text class="t" x="410.5" y="341.7" font-size="5.2" text-anchor="middle">180</text>
<text class="t" x="251.8" y="351.8" font-size="5.2" text-anchor="middle">0</text>
<text class="t" x="283.5" y="351.8" font-size="5.2" text-anchor="middle">250</text>
<text class="t" x="314.2" y="351.8" font-size="5.2" text-anchor="middle">350</text>
<text class="t" x="347.4" y="351.8" font-size="5.2" text-anchor="middle">450</text>
<text class="t" x="378.8" y="351.8" font-size="5.2" text-anchor="middle">550</text>
<text class="t" x="410.5" y="351.8" font-size="5.2" text-anchor="middle">650</text>
<text class="t" x="373.5" y="231.7" font-size="4.4" text-anchor="middle" fill="#666">H</text>
<text class="t" x="355.3" y="253.3" font-size="4.4" text-anchor="middle" fill="#666">η</text>
<text class="t" x="353.9" y="287.2" font-size="4.4" text-anchor="middle" fill="#666">N</text>
<text class="t" x="350.4" y="315.6" font-size="4.4" text-anchor="middle" fill="#666">NPSHr</text>
<text class="t" x="415.5" y="249" font-size="5.2" text-anchor="middle">η</text>
<text class="t" x="415.5" y="253.7" font-size="5.2" text-anchor="middle">(%)</text>
<text class="t" x="415.5" y="258.8" font-size="5.2" text-anchor="middle">75</text>
<text class="t" x="415.5" y="268.2" font-size="5.2" text-anchor="middle">65</text>
<text class="t" x="415.5" y="278" font-size="5.2" text-anchor="middle">55</text>
<text class="t" x="415.5" y="287.8" font-size="5.2" text-anchor="middle">45</text>
<text class="t" x="415.5" y="298" font-size="5.2" text-anchor="middle">35</text>
<text class="t" x="423.9" y="282.7" font-size="5" text-anchor="middle">Pa</text>
<text class="t" x="425.5" y="288.2" font-size="4.8" text-anchor="middle">(kW)</text>
<text class="t" x="427.6" y="293.7" font-size="5" text-anchor="middle">75</text>
<text class="t" x="427.6" y="302.3" font-size="5" text-anchor="middle">65</text>
<text class="t" x="427.6" y="310.9" font-size="5" text-anchor="middle">55</text>
<text class="t" x="427.6" y="319.5" font-size="5" text-anchor="middle">45</text>
<text class="t" x="424" y="341.2" font-size="5" text-anchor="middle">(L/S)</text>
<text class="t" x="415.5" y="344.6" font-size="5" text-anchor="middle">Q</text>
<text class="t" x="425.5" y="348.6" font-size="5" text-anchor="middle">(m³/h)</text>
</g>
<g>
<path class="g" d="M477.5 220.17V333.9M482.5 220.17V333.9M488.5 220.17V333.9M494.5 220.17V333.9M500.5 220.17V333.9M505.5 220.17V333.9M511.5 220.17V333.9M517.5 220.17V333.9M523.5 220.17V333.9M528.5 220.17V333.9M534.5 220.17V333.9M540.5 220.17V333.9M546.5 220.17V333.9M551.5 220.17V333.9M557.5 208.8V333.9M563.5 208.8V333.9M568.5 208.8V333.9M574.5 208.8V333.9M580.5 208.8V333.9M585.5 208.8V333.9M591.5 208.8V333.9M596.5 208.8V333.9M602.5 208.8V333.9M607.5 208.8V333.9M613.5 208.8V333.9M619.5 208.8V333.9M624.5 208.8V333.9M557.7 214.5H630.3M471.5 220.5H630.3M471.5 225.5H630.3M471.5 231.5H630.3M471.5 237.5H630.3M471.5 242.5H630.3M471.5 248.5H630.3M471.5 254.5H630.3M471.5 259.5H630.3M471.5 265.5H630.3M471.5 271.5H630.3M471.5 277.5H630.3M471.5 282.5H630.3M471.5 288.5H630.3M471.5 294.5H630.3M471.5 299.5H630.3M471.5 305.5H630.3M471.5 311.5H630.3M471.5 316.5H630.3M471.5 322.5H630.3M471.5 328.5H630.3" stroke="#262626" stroke-width="0.8"/>
<rect class="fr" x="471.5" y="208.8" width="158.8" height="125.1" stroke-width="1.35"/>
<path class="fr" d="M557.7 208.8V220.17M471.5 220.17H557.7" stroke-width="0.95"/>
<rect x="534.4" y="269.4" width="6.5" height="5.6" fill="#fbfbfb"/>
<rect x="566.6" y="281" width="6.5" height="5.6" fill="#fbfbfb"/>
<rect x="574.2" y="314.6" width="6.5" height="5.6" fill="#fbfbfb"/>
<path class="ld" d="M524.6 253.3L532.9 276.1L540.4 276.1"/>
<path class="ld" d="M581.4 257.3L574.4 288.2L565.7 288.2"/>
<path class="ld" d="M567.1 304.9L573.6 322L579.9 322"/>
<path class="cv" d="M480.3 234.3C482.92 234.63 490.77 235.58 496 236.3C501.23 237.02 506.47 237.78 511.7 238.6C516.93 239.42 521.6 240.25 527.4 241.2C533.2 242.15 540.7 243.07 546.5 244.3C552.3 245.53 556.97 246.9 562.2 248.6C567.43 250.3 572.67 252.37 577.9 254.5C583.13 256.63 588.7 259.25 593.6 261.4C598.5 263.55 603.15 265.38 607.3 267.4C611.45 269.42 616.63 272.48 618.5 273.5"/>
<path class="cv" d="M482.3 287.6C483.6 286.07 487.17 281.4 490.1 278.4C493.03 275.4 496.3 272.53 499.9 269.6C503.5 266.67 507.78 263.42 511.7 260.8C515.62 258.18 519.48 255.97 523.4 253.9C527.32 251.83 531.27 250.03 535.2 248.4C539.13 246.77 543.12 245.2 547 244.1C550.88 243 554.33 242.35 558.5 241.8C562.67 241.25 567.47 240.9 572 240.8C576.53 240.7 581.12 240.75 585.7 241.2C590.28 241.65 595.25 242.52 599.5 243.5C603.75 244.48 608.03 245.92 611.2 247.1C614.37 248.28 617.28 250.02 618.5 250.6"/>
<path class="cv" d="M486.2 316.1C488.48 316.1 495.65 316.2 499.9 316.1C504.15 316 507.12 315.9 511.7 315.5C516.28 315.1 522.18 314.48 527.4 313.7C532.62 312.92 537.78 311.93 543 310.8C548.22 309.67 554.18 308.12 558.7 306.9C563.22 305.68 565.6 304.82 570.1 303.5C574.6 302.18 580.48 300.63 585.7 299C590.92 297.37 596.17 295.6 601.4 293.7C606.63 291.8 614.48 288.62 617.1 287.6"/>
<path class="ax" d="M471.5 345.1L630.3 345.1"/>
<path class="ax" d="M471.5 345.1L471.5 342.1"/>
<path class="ax" d="M494.4 345.1L494.4 342.1"/>
<path class="ax" d="M517.3 345.1L517.3 342.1"/>
<path class="ax" d="M540.2 345.1L540.2 342.1"/>
<path class="ax" d="M563.1 345.1L563.1 342.1"/>
<path class="ax" d="M586 345.1L586 342.1"/>
<path class="ax" d="M608.9 345.1L608.9 342.1"/>
<path class="ax" d="M630.3 345.1L630.3 342.1"/>
<path class="ax" d="M464.6 282.4L469.5 282.4L469.5 328L464.6 328"/>
<path class="ax" d="M469.5 282.4L469.5 328"/>
<path class="ax" d="M469.5 293.7L466.1 293.7"/>
<path class="ax" d="M469.5 305.3L466.1 305.3"/>
<path class="ax" d="M469.5 316.7L466.1 316.7"/>
<text class="s" x="515" y="216.6" font-size="5.8" text-anchor="middle" textLength="74" lengthAdjust="spacingAndGlyphs">250ZX400-50 n=1450r/min</text>
<text class="t" x="465.6" y="219.5" font-size="5.2" text-anchor="middle">H</text>
<text class="t" x="465.6" y="227" font-size="5.2" text-anchor="middle">(m)</text>
<text class="t" x="465.6" y="239.2" font-size="5.2" text-anchor="middle">60</text>
<text class="t" x="465.6" y="250.5" font-size="5.2" text-anchor="middle">50</text>
<text class="t" x="465.6" y="261.7" font-size="5.2" text-anchor="middle">40</text>
<text class="t" x="465.6" y="273.1" font-size="5.2" text-anchor="middle">30</text>
<text class="t" x="457.8" y="280.3" font-size="5.2" text-anchor="middle">N</text>
<text class="t" x="457.8" y="285.8" font-size="5.2" text-anchor="middle">(kW)</text>
<text class="t" x="460.6" y="295.6" font-size="5.2" text-anchor="middle">90</text>
<text class="t" x="460.6" y="307.2" font-size="5.2" text-anchor="middle">80</text>
<text class="t" x="460.6" y="318.6" font-size="5.2" text-anchor="middle">70</text>
<text class="t" x="460.6" y="329.9" font-size="5.2" text-anchor="middle">60</text>
<text class="t" x="473.4" y="340.7" font-size="5.2" text-anchor="middle">0</text>
<text class="t" x="493.6" y="340.7" font-size="5.2" text-anchor="middle">100</text>
<text class="t" x="517.2" y="340.7" font-size="5.2" text-anchor="middle">200</text>
<text class="t" x="540.5" y="340.7" font-size="5.2" text-anchor="middle">300</text>
<text class="t" x="563.8" y="340.7" font-size="5.2" text-anchor="middle">400</text>
<text class="t" x="586.1" y="340.7" font-size="5.2" text-anchor="middle">500</text>
<text class="t" x="607.7" y="340.7" font-size="5.2" text-anchor="middle">600</text>
<text class="t" x="625" y="340.7" font-size="5.2" text-anchor="middle">700</text>
<text class="t" x="473.4" y="352.1" font-size="5.2" text-anchor="middle">0</text>
<text class="t" x="494.5" y="352.1" font-size="5.2" text-anchor="middle">25</text>
<text class="t" x="515.8" y="352.1" font-size="5.2" text-anchor="middle">50</text>
<text class="t" x="534" y="352.1" font-size="5.2" text-anchor="middle">75</text>
<text class="t" x="555.8" y="352.1" font-size="5.2" text-anchor="middle">100</text>
<text class="t" x="577.5" y="352.1" font-size="5.2" text-anchor="middle">125</text>
<text class="t" x="597" y="352.1" font-size="5.2" text-anchor="middle">150</text>
<text class="t" x="617.5" y="352.1" font-size="5.2" text-anchor="middle">175</text>
<text class="t" x="537.5" y="274.1" font-size="5" text-anchor="middle">η</text>
<text class="t" x="570.1" y="285.8" font-size="5" text-anchor="middle">H</text>
<text class="t" x="577.2" y="319.2" font-size="5" text-anchor="middle">N</text>
<text class="t" x="637.3" y="217.2" font-size="5.2" text-anchor="middle">η</text>
<text class="t" x="637.3" y="228.4" font-size="5.2" text-anchor="middle">(%)</text>
<text class="t" x="637.3" y="239.2" font-size="5.2" text-anchor="middle">70</text>
<text class="t" x="637.3" y="249.9" font-size="5.2" text-anchor="middle">60</text>
<text class="t" x="637.3" y="261.3" font-size="5.2" text-anchor="middle">50</text>
<text class="t" x="637.3" y="272.9" font-size="5.2" text-anchor="middle">40</text>
<text class="t" x="637.3" y="284.3" font-size="5.2" text-anchor="middle">30</text>
<text class="t" x="644.6" y="336.2" font-size="5" text-anchor="middle">(m³/h)</text>
<text class="t" x="635.4" y="344.1" font-size="5" text-anchor="middle">Q</text>
<text class="t" x="645" y="351.9" font-size="5" text-anchor="middle">(L/S)</text>
</g>
<g>
<path class="g" d="M36.5 420.61V536.4M42.5 420.61V536.4M48.5 420.61V536.4M53.5 420.61V536.4M59.5 420.61V536.4M64.5 420.61V536.4M70.5 420.61V536.4M76.5 420.61V536.4M81.5 420.61V536.4M87.5 420.61V536.4M93.5 420.61V536.4M98.5 420.61V536.4M104.5 420.61V536.4M110.5 420.61V536.4M115.5 411.7V536.4M121.5 411.7V536.4M127.5 411.7V536.4M132.5 411.7V536.4M138.5 411.7V536.4M144.5 411.7V536.4M150.5 411.7V536.4M155.5 411.7V536.4M161.5 411.7V536.4M167.5 411.7V536.4M173.5 411.7V536.4M178.5 411.7V536.4M184.5 411.7V536.4M115.7 416.5H190.5M31.1 420.5H190.5M31.1 425.5H190.5M31.1 429.5H190.5M31.1 433.5H190.5M31.1 438.5H190.5M31.1 442.5H190.5M31.1 447.5H190.5M31.1 451.5H190.5M31.1 456.5H190.5M31.1 460.5H190.5M31.1 465.5H190.5M31.1 469.5H190.5M31.1 474.5H190.5M31.1 478.5H190.5M31.1 482.5H190.5M31.1 487.5H190.5M31.1 491.5H190.5M31.1 496.5H190.5M31.1 500.5H190.5M31.1 505.5H190.5M31.1 509.5H190.5M31.1 514.5H190.5M31.1 518.5H190.5M31.1 523.5H190.5M31.1 527.5H190.5M31.1 531.5H190.5" stroke="#2c2c2c" stroke-width="0.72"/>
<rect class="fr" x="31.1" y="411.7" width="159.4" height="124.7" stroke-width="1.35"/>
<path class="fr" d="M115.7 411.7V420.61M31.1 420.61H115.7" stroke-width="0.95"/>
<rect x="133.9" y="425" width="5" height="4.4" fill="#fbfbfb"/>
<rect x="114.3" y="454.4" width="5" height="4.4" fill="#fbfbfb"/>
<rect x="126.8" y="489.6" width="5" height="4.4" fill="#fbfbfb"/>
<rect x="122" y="511.8" width="16.5" height="5.6" fill="#fbfbfb"/>
<path class="ld" d="M127.3 438.8L131.2 430.9L139.1 430.9"/>
<path class="ld" d="M125.4 465.6L122 461.1L114.6 461.1"/>
<path class="ld" d="M136.5 500.5L133.2 495.5L125.4 495.5"/>
<path class="ld" d="M142 523.9L139.1 518.6L120.5 518.6"/>
<path class="cv" d="M30.4 439.2C32.52 438.8 38.37 437.45 43.1 436.8C47.83 436.15 52.92 435.65 58.8 435.3C64.68 434.95 71.87 434.68 78.4 434.7C84.93 434.72 92.12 435.03 98 435.4C103.88 435.77 108.65 436.27 113.7 436.9C118.75 437.53 123.25 438 128.3 439.2C133.35 440.4 138.77 442.3 144 444.1C149.23 445.9 155.13 447.88 159.7 450C164.27 452.12 167.97 454.52 171.4 456.8C174.83 459.08 177.68 461.35 180.3 463.7C182.92 466.05 185.97 469.7 187.1 470.9"/>
<path class="cv" d="M30.4 536.6C31.55 534.75 34.52 529.48 37.3 525.5C40.08 521.52 43.52 516.95 47.1 512.7C50.68 508.45 54.88 503.75 58.8 500C62.72 496.25 66.67 493.15 70.6 490.2C74.53 487.25 78.15 484.75 82.4 482.3C86.65 479.85 91.53 477.62 96.1 475.5C100.67 473.38 105.08 471.25 109.8 469.6C114.52 467.95 119.37 466.58 124.4 465.6C129.43 464.62 135.1 463.95 140 463.7C144.9 463.45 149.22 463.72 153.8 464.1C158.38 464.48 163.25 465.08 167.5 466C171.75 466.92 175.87 468.18 179.3 469.6C182.73 471.02 186.63 473.68 188.1 474.5"/>
<path class="cv" d="M30.4 518.6C33.18 518.1 41.05 516.68 47.1 515.6C53.15 514.52 60.17 513.23 66.7 512.1C73.23 510.97 79.77 509.85 86.3 508.8C92.83 507.75 101.52 506.45 105.9 505.8C110.28 505.15 108.22 505.65 112.6 504.9C116.98 504.15 125.67 502.45 132.2 501.3C138.73 500.15 145.27 499.03 151.8 498C158.33 496.97 165.52 495.98 171.4 495.1C177.28 494.22 184.48 493.1 187.1 492.7"/>
<path class="cv" d="M110.6 527.8C113.22 527.57 121.07 527.05 126.3 526.4C131.53 525.75 136.77 524.88 142 523.9C147.23 522.92 152.8 521.72 157.7 520.5C162.6 519.28 168.13 517.57 171.4 516.6C174.67 515.63 176.32 515.02 177.3 514.7"/>
<path class="ax" d="M30.8 546.6L190.5 546.6"/>
<path class="ax" d="M30.8 546.6L30.8 544.3"/>
<path class="ax" d="M47.2 546.6L47.2 544.3"/>
<path class="ax" d="M63.6 546.6L63.6 544.3"/>
<path class="ax" d="M80 546.6L80 544.3"/>
<path class="ax" d="M96.4 546.6L96.4 544.3"/>
<path class="ax" d="M112.8 546.6L112.8 544.3"/>
<path class="ax" d="M129.2 546.6L129.2 544.3"/>
<path class="ax" d="M145.6 546.6L145.6 544.3"/>
<path class="ax" d="M162 546.6L162 544.3"/>
<path class="ax" d="M178.4 546.6L178.4 544.3"/>
<path class="ax" d="M21.6 510.2L26 510.2L26 536.4L21.6 536.4"/>
<path class="ax" d="M26 519L21.8 519"/>
<path class="ax" d="M26 527.7L21.8 527.7"/>
<path class="ax" d="M201.2 493.5L201.2 518.6"/>
<path class="ax" d="M201.2 493.5L203.7 493.5"/>
<path class="ax" d="M201.2 501.9L203.7 501.9"/>
<path class="ax" d="M201.2 510.2L203.7 510.2"/>
<path class="ax" d="M201.2 518.6L203.7 518.6"/>
<text class="s" x="73" y="418" font-size="5.8" text-anchor="middle" textLength="76" lengthAdjust="spacingAndGlyphs">250ZX450-55  n=1450r/min</text>
<text class="t" x="24.5" y="420.5" font-size="5.2" text-anchor="middle">H</text>
<text class="t" x="24.5" y="425.4" font-size="5.2" text-anchor="middle">(m)</text>
<text class="t" x="24.5" y="431.7" font-size="5.2" text-anchor="middle">63</text>
<text class="t" x="24.5" y="441.1" font-size="5.2" text-anchor="middle">59</text>
<text class="t" x="24.5" y="450.3" font-size="5.2" text-anchor="middle">55</text>
<text class="t" x="24.5" y="459.3" font-size="5.2" text-anchor="middle">51</text>
<text class="t" x="24.5" y="468.5" font-size="5.2" text-anchor="middle">47</text>
<text class="t" x="19.9" y="501.9" font-size="5" text-anchor="middle">NPSHr</text>
<text class="t" x="19.9" y="507.6" font-size="5" text-anchor="middle">(m)</text>
<text class="t" x="17.4" y="512.8" font-size="5" text-anchor="middle">5</text>
<text class="t" x="17.4" y="521.1" font-size="5" text-anchor="middle">4</text>
<text class="t" x="17.4" y="529.7" font-size="5" text-anchor="middle">3</text>
<text class="t" x="17.4" y="538.5" font-size="5" text-anchor="middle">2</text>
<text class="t" x="31.8" y="542.6" font-size="5.2" text-anchor="middle">0</text>
<text class="t" x="52.9" y="542.6" font-size="5.2" text-anchor="middle">35</text>
<text class="t" x="76.5" y="542.6" font-size="5.2" text-anchor="middle">55</text>
<text class="t" x="100" y="542.6" font-size="5.2" text-anchor="middle">75</text>
<text class="t" x="123.4" y="542.6" font-size="5.2" text-anchor="middle">95</text>
<text class="t" x="146.3" y="542.6" font-size="5.2" text-anchor="middle">115</text>
<text class="t" x="169.9" y="542.6" font-size="5.2" text-anchor="middle">135</text>
<text class="t" x="188.5" y="542.6" font-size="5.2" text-anchor="middle">155</text>
<text class="t" x="32.1" y="551.7" font-size="5.2" text-anchor="middle">0</text>
<text class="t" x="69.4" y="551.7" font-size="5.2" text-anchor="middle">150</text>
<text class="t" x="101.5" y="551.7" font-size="5.2" text-anchor="middle">250</text>
<text class="t" x="132" y="551.7" font-size="5.2" text-anchor="middle">350</text>
<text class="t" x="159" y="551.7" font-size="5.2" text-anchor="middle">450</text>
<text class="t" x="186.1" y="551.7" font-size="5.2" text-anchor="middle">550</text>
<text class="t" x="136.5" y="428.9" font-size="4.4" text-anchor="middle" fill="#666">H</text>
<text class="t" x="116.9" y="458.3" font-size="4.4" text-anchor="middle" fill="#666">η</text>
<text class="t" x="129.3" y="493.4" font-size="4.4" text-anchor="middle" fill="#666">N</text>
<text class="t" x="130.3" y="516.5" font-size="4.4" text-anchor="middle" fill="#666">NPSHr</text>
<text class="t" x="195" y="444" font-size="5.2" text-anchor="middle">η</text>
<text class="t" x="195" y="448.9" font-size="5.2" text-anchor="middle">(%)</text>
<text class="t" x="195" y="454.8" font-size="5.2" text-anchor="middle">75</text>
<text class="t" x="195" y="464.6" font-size="5.2" text-anchor="middle">65</text>
<text class="t" x="195" y="474.8" font-size="5.2" text-anchor="middle">55</text>
<text class="t" x="195" y="484.6" font-size="5.2" text-anchor="middle">45</text>
<text class="t" x="195" y="494.6" font-size="5.2" text-anchor="middle">35</text>
<text class="t" x="204.8" y="484.6" font-size="5" text-anchor="middle">Pa</text>
<text class="t" x="202.3" y="489.1" font-size="4.8" text-anchor="middle">(kW)</text>
<text class="t" x="209.8" y="495.4" font-size="5" text-anchor="middle">115</text>
<text class="t" x="209.8" y="503.4" font-size="5" text-anchor="middle">95</text>
<text class="t" x="209.8" y="511.7" font-size="5" text-anchor="middle">70</text>
<text class="t" x="209.8" y="519.9" font-size="5" text-anchor="middle">50</text>
<text class="t" x="202.8" y="541.5" font-size="5" text-anchor="middle">(L/S)</text>
<text class="t" x="195" y="546" font-size="5" text-anchor="middle">Q</text>
<text class="t" x="204.8" y="549.3" font-size="5" text-anchor="middle">(m³/h)</text>
</g>
<g>
<path class="g" d="M256.5 419.66V534.3M262.5 419.66V534.3M268.5 419.66V534.3M273.5 419.66V534.3M279.5 419.66V534.3M285.5 419.66V534.3M291.5 419.66V534.3M296.5 419.66V534.3M302.5 419.66V534.3M308.5 419.66V534.3M313.5 419.66V534.3M319.5 419.66V534.3M325.5 419.66V534.3M330.5 419.66V534.3M336.5 408.2V534.3M342.5 408.2V534.3M348.5 408.2V534.3M353.5 408.2V534.3M359.5 408.2V534.3M365.5 408.2V534.3M370.5 408.2V534.3M376.5 408.2V534.3M382.5 408.2V534.3M387.5 408.2V534.3M393.5 408.2V534.3M399.5 408.2V534.3M405.5 408.2V534.3M336.6 413.5H410.7M251.1 419.5H410.7M251.1 425.5H410.7M251.1 431.5H410.7M251.1 436.5H410.7M251.1 442.5H410.7M251.1 448.5H410.7M251.1 454.5H410.7M251.1 459.5H410.7M251.1 465.5H410.7M251.1 471.5H410.7M251.1 476.5H410.7M251.1 482.5H410.7M251.1 488.5H410.7M251.1 494.5H410.7M251.1 499.5H410.7M251.1 505.5H410.7M251.1 511.5H410.7M251.1 517.5H410.7M251.1 522.5H410.7M251.1 528.5H410.7" stroke="#262626" stroke-width="0.8"/>
<rect class="fr" x="251.1" y="408.2" width="159.6" height="126.1" stroke-width="1.35"/>
<path class="fr" d="M336.6 408.2V419.66M251.1 419.66H336.6" stroke-width="0.95"/>
<rect x="315.4" y="470" width="6.5" height="5.6" fill="#fbfbfb"/>
<rect x="347" y="481.6" width="6.5" height="5.6" fill="#fbfbfb"/>
<rect x="352.3" y="515" width="6.5" height="5.6" fill="#fbfbfb"/>
<path class="ld" d="M305.8 456.2L313.6 477.8L323 477.8"/>
<path class="ld" d="M362.7 457.8L354.3 489.2L346.4 489.2"/>
<path class="ld" d="M344.5 504.9L351.3 522.5L360.2 522.5"/>
<path class="cv" d="M259.9 434.7C262.58 434.85 270.7 435.08 276 435.6C281.3 436.12 286.47 436.95 291.7 437.8C296.93 438.65 302.18 439.65 307.4 440.7C312.62 441.75 318.62 443.05 323 444.1C327.38 445.15 329.3 445.7 333.7 447C338.1 448.3 344.17 449.93 349.4 451.9C354.63 453.87 359.88 456.52 365.1 458.8C370.32 461.08 376.13 463.38 380.7 465.6C385.27 467.82 389.55 470.45 392.5 472.1C395.45 473.75 397.42 474.93 398.4 475.5"/>
<path class="cv" d="M261.3 491.5C262.77 489.8 267 484.47 270.1 481.3C273.2 478.13 276.3 475.43 279.9 472.5C283.5 469.57 287.78 466.32 291.7 463.7C295.62 461.08 299.48 458.87 303.4 456.8C307.32 454.73 311.27 452.87 315.2 451.3C319.13 449.73 322.62 448.5 327 447.4C331.38 446.3 336.78 445.25 341.5 444.7C346.22 444.15 350.72 444.13 355.3 444.1C359.88 444.07 364.43 443.95 369 444.5C373.57 445.05 378.78 446.27 382.7 447.4C386.62 448.53 389.55 449.9 392.5 451.3C395.45 452.7 399.08 455.05 400.4 455.8"/>
<path class="cv" d="M265.8 516.2C268.15 516.2 274.93 516.38 279.9 516.2C284.87 516.02 290.37 515.68 295.6 515.1C300.83 514.52 306.07 513.65 311.3 512.7C316.53 511.75 320.65 510.93 327 509.4C333.35 507.87 343.05 505.23 349.4 503.5C355.75 501.77 359.88 500.57 365.1 499C370.32 497.43 375.32 495.73 380.7 494.1C386.08 492.47 394.62 490.02 397.4 489.2"/>
<path class="ax" d="M251.1 544.7L410.7 544.7"/>
<path class="ax" d="M251.1 544.7L251.1 541.7"/>
<path class="ax" d="M274 544.7L274 541.7"/>
<path class="ax" d="M296.9 544.7L296.9 541.7"/>
<path class="ax" d="M319.8 544.7L319.8 541.7"/>
<path class="ax" d="M342.7 544.7L342.7 541.7"/>
<path class="ax" d="M365.6 544.7L365.6 541.7"/>
<path class="ax" d="M388.5 544.7L388.5 541.7"/>
<path class="ax" d="M410.7 544.7L410.7 541.7"/>
<path class="ax" d="M250.8 484.3L248.9 485.3L248.9 528.4L250.8 529.4"/>
<text class="s" x="294" y="416" font-size="5.8" text-anchor="middle" textLength="76" lengthAdjust="spacingAndGlyphs">250ZX400-75  n=1450r/min</text>
<text class="t" x="246.2" y="419.5" font-size="5.2" text-anchor="middle">H</text>
<text class="t" x="246.2" y="427.4" font-size="5.2" text-anchor="middle">(m)</text>
<text class="t" x="246.2" y="440.1" font-size="5.2" text-anchor="middle">85</text>
<text class="t" x="246.2" y="451.9" font-size="5.2" text-anchor="middle">75</text>
<text class="t" x="246.2" y="463.6" font-size="5.2" text-anchor="middle">65</text>
<text class="t" x="246.2" y="475.4" font-size="5.2" text-anchor="middle">55</text>
<text class="t" x="237.7" y="483.2" font-size="5.2" text-anchor="middle">N</text>
<text class="t" x="237.7" y="490.1" font-size="5.2" text-anchor="middle">(kW)</text>
<text class="t" x="241.4" y="497.4" font-size="5.2" text-anchor="middle">135</text>
<text class="t" x="241.4" y="508.7" font-size="5.2" text-anchor="middle">125</text>
<text class="t" x="241.4" y="519.9" font-size="5.2" text-anchor="middle">115</text>
<text class="t" x="241.4" y="531.3" font-size="5.2" text-anchor="middle">105</text>
<text class="t" x="252.5" y="540.5" font-size="5.2" text-anchor="middle">0</text>
<text class="t" x="273" y="540.5" font-size="5.2" text-anchor="middle">100</text>
<text class="t" x="296.6" y="540.5" font-size="5.2" text-anchor="middle">200</text>
<text class="t" x="320.7" y="540.5" font-size="5.2" text-anchor="middle">300</text>
<text class="t" x="343.2" y="540.5" font-size="5.2" text-anchor="middle">400</text>
<text class="t" x="366" y="540.5" font-size="5.2" text-anchor="middle">500</text>
<text class="t" x="390.9" y="540.5" font-size="5.2" text-anchor="middle">600</text>
<text class="t" x="406.6" y="540.5" font-size="5.2" text-anchor="middle">700</text>
<text class="t" x="252.1" y="554.3" font-size="5.2" text-anchor="middle">0</text>
<text class="t" x="267.4" y="554.3" font-size="5.2" text-anchor="middle">25</text>
<text class="t" x="291.1" y="554.3" font-size="5.2" text-anchor="middle">50</text>
<text class="t" x="313.7" y="554.3" font-size="5.2" text-anchor="middle">75</text>
<text class="t" x="336.8" y="554.3" font-size="5.2" text-anchor="middle">100</text>
<text class="t" x="355.4" y="554.3" font-size="5.2" text-anchor="middle">125</text>
<text class="t" x="378.4" y="554.3" font-size="5.2" text-anchor="middle">150</text>
<text class="t" x="401.1" y="554.3" font-size="5.2" text-anchor="middle">175</text>
<text class="t" x="318.7" y="474.8" font-size="5" text-anchor="middle">η</text>
<text class="t" x="350.4" y="486.2" font-size="5" text-anchor="middle">H</text>
<text class="t" x="355.6" y="519.5" font-size="5" text-anchor="middle">N</text>
<text class="t" x="416" y="416.6" font-size="5.2" text-anchor="middle">η</text>
<text class="t" x="416" y="429.3" font-size="5.2" text-anchor="middle">(%)</text>
<text class="t" x="416" y="440.7" font-size="5.2" text-anchor="middle">70</text>
<text class="t" x="416" y="452.4" font-size="5.2" text-anchor="middle">60</text>
<text class="t" x="416" y="463.6" font-size="5.2" text-anchor="middle">50</text>
<text class="t" x="416" y="475" font-size="5.2" text-anchor="middle">40</text>
<text class="t" x="416" y="485.8" font-size="5.2" text-anchor="middle">30</text>
<text class="t" x="427.4" y="539.5" font-size="5" text-anchor="middle">(m³/h)</text>
<text class="t" x="417" y="546" font-size="5" text-anchor="middle">Q</text>
<text class="t" x="423" y="553.2" font-size="5" text-anchor="middle">(L/S)</text>
</g>
<g>
<path class="g" d="M477.5 421.94V538.2M482.5 421.94V538.2M488.5 421.94V538.2M494.5 421.94V538.2M500.5 421.94V538.2M505.5 421.94V538.2M511.5 421.94V538.2M517.5 421.94V538.2M522.5 421.94V538.2M528.5 421.94V538.2M534.5 421.94V538.2M539.5 421.94V538.2M545.5 421.94V538.2M551.5 421.94V538.2M557.5 413V538.2M562.5 413V538.2M568.5 413V538.2M573.5 413V538.2M579.5 413V538.2M585.5 413V538.2M590.5 413V538.2M596.5 413V538.2M601.5 413V538.2M607.5 413V538.2M613.5 413V538.2M618.5 413V538.2M624.5 413V538.2M557.1 417.5H629.9M471.5 421.5H629.9M471.5 426.5H629.9M471.5 430.5H629.9M471.5 435.5H629.9M471.5 439.5H629.9M471.5 444.5H629.9M471.5 448.5H629.9M471.5 453.5H629.9M471.5 457.5H629.9M471.5 462.5H629.9M471.5 466.5H629.9M471.5 471.5H629.9M471.5 475.5H629.9M471.5 480.5H629.9M471.5 484.5H629.9M471.5 489.5H629.9M471.5 493.5H629.9M471.5 497.5H629.9M471.5 502.5H629.9M471.5 506.5H629.9M471.5 511.5H629.9M471.5 515.5H629.9M471.5 520.5H629.9M471.5 524.5H629.9M471.5 529.5H629.9M471.5 533.5H629.9" stroke="#262626" stroke-width="0.8"/>
<rect class="fr" x="471.5" y="413" width="158.4" height="125.2" stroke-width="1.35"/>
<path class="fr" d="M557.1 413V421.94M471.5 421.94H557.1" stroke-width="0.95"/>
<rect x="592.5" y="429.6" width="5" height="4.4" fill="#fbfbfb"/>
<rect x="571.5" y="452.5" width="5" height="4.4" fill="#fbfbfb"/>
<rect x="572.5" y="487.3" width="5" height="4.4" fill="#fbfbfb"/>
<rect x="561" y="513.6" width="16.5" height="5.6" fill="#fbfbfb"/>
<path class="ld" d="M586.1 440.2L590.6 435.3L599.5 435.3"/>
<path class="ld" d="M582.8 466.2L578.3 458.8L573 458.8"/>
<path class="ld" d="M585.4 501.3L578.9 493.5L573.6 493.5"/>
<path class="ld" d="M584.8 526.4L579.9 520.5L562.2 520.5"/>
<path class="cv" d="M471.5 435.3C473.62 434.9 479.47 433.57 484.2 432.9C488.93 432.23 494.35 431.63 499.9 431.3C505.45 430.97 511.62 430.83 517.5 430.9C523.38 430.97 529.63 431.23 535.2 431.7C540.77 432.17 545.08 432.78 550.9 433.7C556.72 434.62 564.3 435.9 570.1 437.2C575.9 438.5 580.48 439.93 585.7 441.5C590.92 443.07 596.48 444.77 601.4 446.6C606.32 448.43 611.43 450.53 615.2 452.5C618.97 454.47 622.53 457.42 624 458.4"/>
<path class="cv" d="M471.5 538.2C472.63 536.73 475.53 532.83 478.3 529.4C481.07 525.97 484.5 521.53 488.1 517.6C491.7 513.67 495.97 509.4 499.9 505.8C503.83 502.2 507.78 498.93 511.7 496C515.62 493.07 519.15 490.8 523.4 488.2C527.65 485.6 532.62 482.68 537.2 480.4C541.78 478.12 545.42 476.47 550.9 474.5C556.38 472.53 564.62 469.98 570.1 468.6C575.58 467.22 578.9 466.7 583.8 466.2C588.7 465.7 594.6 465.53 599.5 465.6C604.4 465.67 609.12 466.03 613.2 466.6C617.28 467.17 622.2 468.6 624 469"/>
<path class="cv" d="M471.5 521.9C474.27 521.45 482.07 520.33 488.1 519.2C494.13 518.07 501.15 516.42 507.7 515.1C514.25 513.78 520.85 512.52 527.4 511.3C533.95 510.08 541.2 508.87 547 507.8C552.8 506.73 556.4 505.88 562.2 504.9C568 503.92 575.27 502.72 581.8 501.9C588.33 501.08 595.35 500.58 601.4 500C607.45 499.42 615.32 498.67 618.1 498.4"/>
<path class="cv" d="M546.5 529C549.12 528.9 556.97 528.73 562.2 528.4C567.43 528.07 572.67 527.58 577.9 527C583.13 526.42 588.7 525.65 593.6 524.9C598.5 524.15 603.45 523.23 607.3 522.5C611.15 521.77 615.13 520.83 616.7 520.5"/>
<path class="ax" d="M471.5 546.6L629.9 546.6"/>
<path class="ax" d="M471.5 546.6L471.5 543.6"/>
<path class="ax" d="M487.34 546.6L487.34 543.6"/>
<path class="ax" d="M503.18 546.6L503.18 543.6"/>
<path class="ax" d="M519.02 546.6L519.02 543.6"/>
<path class="ax" d="M534.86 546.6L534.86 543.6"/>
<path class="ax" d="M550.7 546.6L550.7 543.6"/>
<path class="ax" d="M566.54 546.6L566.54 543.6"/>
<path class="ax" d="M582.38 546.6L582.38 543.6"/>
<path class="ax" d="M598.22 546.6L598.22 543.6"/>
<path class="ax" d="M614.06 546.6L614.06 543.6"/>
<path class="ax" d="M629.9 546.6L629.9 543.6"/>
<path class="ax" d="M466 520.9L468.5 520.9L468.5 538.2L466 538.2"/>
<path class="ax" d="M468.5 529.6L466.5 529.6"/>
<path class="ax" d="M643.5 494.5L640.6 494.5L640.6 520.5L643.5 520.5"/>
<path class="ax" d="M640.6 503.2L643 503.2"/>
<path class="ax" d="M640.6 511.8L643 511.8"/>
<path d="M577.9 506.8L629.9 506.8" fill="none" stroke="#b05555" stroke-width="0.8" opacity="0.22"/>
<text class="s" x="515" y="419.6" font-size="5.8" text-anchor="middle" textLength="76" lengthAdjust="spacingAndGlyphs">300ZX600-32  n=1450r/min</text>
<text class="t" x="466.2" y="420.5" font-size="5.2" text-anchor="middle">H</text>
<text class="t" x="466.2" y="425.4" font-size="5.2" text-anchor="middle">(m)</text>
<text class="t" x="466.2" y="432.3" font-size="5.2" text-anchor="middle">38</text>
<text class="t" x="466.2" y="441.5" font-size="5.2" text-anchor="middle">34</text>
<text class="t" x="466.2" y="450.5" font-size="5.2" text-anchor="middle">30</text>
<text class="t" x="466.2" y="459.7" font-size="5.2" text-anchor="middle">26</text>
<text class="t" x="466.2" y="468.9" font-size="5.2" text-anchor="middle">22</text>
<text class="t" x="461.7" y="512.6" font-size="5" text-anchor="middle">NPSHr</text>
<text class="t" x="461.7" y="517.5" font-size="5" text-anchor="middle">(m)</text>
<text class="t" x="460.5" y="523.6" font-size="5" text-anchor="middle">4</text>
<text class="t" x="460.5" y="531.7" font-size="5" text-anchor="middle">3</text>
<text class="t" x="460.5" y="540.1" font-size="5" text-anchor="middle">2</text>
<text class="t" x="472.5" y="544" font-size="5.2" text-anchor="middle">0</text>
<text class="t" x="495" y="544" font-size="5.2" text-anchor="middle">75</text>
<text class="t" x="517.5" y="544" font-size="5.2" text-anchor="middle">95</text>
<text class="t" x="540" y="544" font-size="5.2" text-anchor="middle">115</text>
<text class="t" x="564" y="544" font-size="5.2" text-anchor="middle">135</text>
<text class="t" x="586.7" y="544" font-size="5.2" text-anchor="middle">155</text>
<text class="t" x="609.3" y="544" font-size="5.2" text-anchor="middle">175</text>
<text class="t" x="627" y="544" font-size="5.2" text-anchor="middle">195</text>
<text class="t" x="472.3" y="553.1" font-size="5.2" text-anchor="middle">0</text>
<text class="t" x="503" y="553.1" font-size="5.2" text-anchor="middle">300</text>
<text class="t" x="533.7" y="553.1" font-size="5.2" text-anchor="middle">400</text>
<text class="t" x="564.4" y="553.1" font-size="5.2" text-anchor="middle">500</text>
<text class="t" x="595.1" y="553.1" font-size="5.2" text-anchor="middle">600</text>
<text class="t" x="625.8" y="553.1" font-size="5.2" text-anchor="middle">700</text>
<text class="t" x="595" y="433.6" font-size="4.4" text-anchor="middle" fill="#666">H</text>
<text class="t" x="574" y="456.4" font-size="4.4" text-anchor="middle" fill="#666">η</text>
<text class="t" x="575" y="491.1" font-size="4.4" text-anchor="middle" fill="#666">N</text>
<text class="t" x="569.1" y="518.1" font-size="4.4" text-anchor="middle" fill="#666">NPSHr</text>
<text class="t" x="635.7" y="449.9" font-size="5.2" text-anchor="middle">η</text>
<text class="t" x="635.7" y="455.2" font-size="5.2" text-anchor="middle">(%)</text>
<text class="t" x="635.7" y="460.3" font-size="5.2" text-anchor="middle">75</text>
<text class="t" x="635.7" y="469.5" font-size="5.2" text-anchor="middle">65</text>
<text class="t" x="635.7" y="478.3" font-size="5.2" text-anchor="middle">55</text>
<text class="t" x="635.7" y="487.2" font-size="5.2" text-anchor="middle">45</text>
<text class="t" x="635.7" y="496" font-size="5.2" text-anchor="middle">35</text>
<text class="t" x="645.5" y="485.8" font-size="4.8" text-anchor="middle">NPa</text>
<text class="t" x="645.5" y="490.5" font-size="4.8" text-anchor="middle">(kW)</text>
<text class="t" x="648" y="496" font-size="5" text-anchor="middle">90</text>
<text class="t" x="648" y="504.9" font-size="5" text-anchor="middle">80</text>
<text class="t" x="648" y="513.7" font-size="5" text-anchor="middle">70</text>
<text class="t" x="648" y="522.4" font-size="5" text-anchor="middle">60</text>
<text class="t" x="643" y="542.6" font-size="5" text-anchor="middle">(L/S)</text>
<text class="t" x="635.7" y="546.6" font-size="5" text-anchor="middle">Q</text>
<text class="t" x="643" y="553.4" font-size="5" text-anchor="middle">(m³/h)</text>
</g>
<g>
<path class="g" d="M36.5 622.64V737.6M42.5 622.64V737.6M48.5 622.64V737.6M53.5 622.64V737.6M59.5 622.64V737.6M65.5 622.64V737.6M70.5 622.64V737.6M76.5 622.64V737.6M81.5 622.64V737.6M87.5 622.64V737.6M93.5 622.64V737.6M98.5 622.64V737.6M104.5 622.64V737.6M110.5 622.64V737.6M115.5 613.8V737.6M121.5 613.8V737.6M127.5 613.8V737.6M132.5 613.8V737.6M138.5 613.8V737.6M144.5 613.8V737.6M150.5 613.8V737.6M155.5 613.8V737.6M161.5 613.8V737.6M167.5 613.8V737.6M173.5 613.8V737.6M178.5 613.8V737.6M184.5 613.8V737.6M115.7 618.5H190.5M31.2 622.5H190.5M31.2 627.5H190.5M31.2 631.5H190.5M31.2 635.5H190.5M31.2 640.5H190.5M31.2 644.5H190.5M31.2 649.5H190.5M31.2 653.5H190.5M31.2 658.5H190.5M31.2 662.5H190.5M31.2 666.5H190.5M31.2 671.5H190.5M31.2 675.5H190.5M31.2 680.5H190.5M31.2 684.5H190.5M31.2 688.5H190.5M31.2 693.5H190.5M31.2 697.5H190.5M31.2 702.5H190.5M31.2 706.5H190.5M31.2 711.5H190.5M31.2 715.5H190.5M31.2 719.5H190.5M31.2 724.5H190.5M31.2 728.5H190.5M31.2 733.5H190.5" stroke="#2c2c2c" stroke-width="0.72"/>
<rect class="fr" x="31.2" y="613.8" width="159.3" height="123.8" stroke-width="1.35"/>
<path class="fr" d="M115.7 613.8V622.64M31.2 622.64H115.7" stroke-width="0.95"/>
<rect x="134.6" y="626.4" width="5" height="4.4" fill="#fbfbfb"/>
<rect x="116" y="655.5" width="5" height="4.4" fill="#fbfbfb"/>
<rect x="125.8" y="691.2" width="5" height="4.4" fill="#fbfbfb"/>
<rect x="121" y="713.5" width="16.5" height="5.6" fill="#fbfbfb"/>
<path class="ld" d="M127.3 640.3L131.2 632.5L140.1 632.5"/>
<path class="ld" d="M125.4 665.8L122.4 661.9L114.6 661.9"/>
<path class="ld" d="M137.1 701.5L133.2 696.8L125.4 696.8"/>
<path class="ld" d="M142 724.2L139.1 720.1L120.5 720.1"/>
<path class="cv" d="M30.4 640.7C32.52 640.3 38.37 638.95 43.1 638.3C47.83 637.65 52.92 637.12 58.8 636.8C64.68 636.48 71.87 636.33 78.4 636.4C84.93 636.47 92.12 636.78 98 637.2C103.88 637.62 108.98 638.38 113.7 638.9C118.42 639.42 121.58 639.42 126.3 640.3C131.02 641.18 136.77 642.57 142 644.2C147.23 645.83 152.8 647.97 157.7 650.1C162.6 652.23 167.48 654.72 171.4 657C175.32 659.28 178.35 661.35 181.2 663.8C184.05 666.25 187.28 670.38 188.5 671.7"/>
<path class="cv" d="M30.4 737.9C31.38 736.17 34.18 731.02 36.3 727.5C38.42 723.98 40.33 720.72 43.1 716.8C45.87 712.88 49.3 708.08 52.9 704C56.5 699.92 60.77 695.57 64.7 692.3C68.63 689.03 72.25 686.87 76.5 684.4C80.75 681.93 85.3 679.78 90.2 677.5C95.1 675.22 100.2 672.65 105.9 670.7C111.6 668.75 118.72 666.95 124.4 665.8C130.08 664.65 135.1 663.97 140 663.8C144.9 663.63 149.22 664.2 153.8 664.8C158.38 665.4 163.25 666.32 167.5 667.4C171.75 668.48 175.87 669.87 179.3 671.3C182.73 672.73 186.63 675.22 188.1 676"/>
<path class="cv" d="M30.4 719.7C33.18 719.22 41.05 717.88 47.1 716.8C53.15 715.72 60.17 714.25 66.7 713.2C73.23 712.15 79.77 711.47 86.3 710.5C92.83 709.53 101.52 708.08 105.9 707.4C110.28 706.72 108.22 707.22 112.6 706.4C116.98 705.58 125.67 703.78 132.2 702.5C138.73 701.22 145.27 699.85 151.8 698.7C158.33 697.55 165.28 696.52 171.4 695.6C177.52 694.68 185.65 693.6 188.5 693.2"/>
<path class="cv" d="M106.7 728.5C109.32 728.33 117.17 728.08 122.4 727.5C127.63 726.92 132.87 725.97 138.1 725C143.33 724.03 148.9 722.92 153.8 721.7C158.7 720.48 163.75 718.85 167.5 717.7C171.25 716.55 174.83 715.28 176.3 714.8"/>
<path class="ax" d="M31.2 746.5L190.5 746.5"/>
<path class="ax" d="M31.2 746.5L31.2 744.2"/>
<path class="ax" d="M47.7 746.5L47.7 744.2"/>
<path class="ax" d="M64.2 746.5L64.2 744.2"/>
<path class="ax" d="M80.7 746.5L80.7 744.2"/>
<path class="ax" d="M97.2 746.5L97.2 744.2"/>
<path class="ax" d="M113.7 746.5L113.7 744.2"/>
<path class="ax" d="M130.2 746.5L130.2 744.2"/>
<path class="ax" d="M146.7 746.5L146.7 744.2"/>
<path class="ax" d="M163.2 746.5L163.2 744.2"/>
<path class="ax" d="M179.7 746.5L179.7 744.2"/>
<path class="ax" d="M25.2 710.9L28.1 710.9L28.1 737.6L25.2 737.6"/>
<path class="ax" d="M28.1 719.9L26 719.9"/>
<path class="ax" d="M28.1 728.9L26 728.9"/>
<path class="ax" d="M200.5 694.2L200.5 719.7"/>
<path class="ax" d="M200.5 694.2L203 694.2"/>
<path class="ax" d="M200.5 702.7L203 702.7"/>
<path class="ax" d="M200.5 711.2L203 711.2"/>
<path class="ax" d="M200.5 719.7L203 719.7"/>
<text class="s" x="73" y="620" font-size="5.8" text-anchor="middle" textLength="76" lengthAdjust="spacingAndGlyphs">300ZX500-50  n=1450r/min</text>
<text class="t" x="25.1" y="622.6" font-size="5.2" text-anchor="middle">H</text>
<text class="t" x="25.1" y="627.5" font-size="5.2" text-anchor="middle">(m)</text>
<text class="t" x="25.1" y="632.8" font-size="5.2" text-anchor="middle">54</text>
<text class="t" x="25.1" y="642.2" font-size="5.2" text-anchor="middle">52</text>
<text class="t" x="25.1" y="651" font-size="5.2" text-anchor="middle">50</text>
<text class="t" x="25.1" y="659.8" font-size="5.2" text-anchor="middle">46</text>
<text class="t" x="25.1" y="668.7" font-size="5.2" text-anchor="middle">42</text>
<text class="t" x="21.6" y="703" font-size="5" text-anchor="middle">NPSHr</text>
<text class="t" x="21.6" y="707.9" font-size="5" text-anchor="middle">(m)</text>
<text class="t" x="23.6" y="713.6" font-size="5" text-anchor="middle">5</text>
<text class="t" x="23.6" y="722.2" font-size="5" text-anchor="middle">4</text>
<text class="t" x="23.6" y="730.8" font-size="5" text-anchor="middle">3</text>
<text class="t" x="23.6" y="739.6" font-size="5" text-anchor="middle">2</text>
<text class="t" x="31.8" y="743.2" font-size="5.2" text-anchor="middle">0</text>
<text class="t" x="52.5" y="743.2" font-size="5.2" text-anchor="middle">50</text>
<text class="t" x="77.5" y="743.2" font-size="5.2" text-anchor="middle">70</text>
<text class="t" x="99.6" y="743.2" font-size="5.2" text-anchor="middle">90</text>
<text class="t" x="124" y="743.2" font-size="5.2" text-anchor="middle">110</text>
<text class="t" x="145.9" y="743.2" font-size="5.2" text-anchor="middle">130</text>
<text class="t" x="169.5" y="743.2" font-size="5.2" text-anchor="middle">150</text>
<text class="t" x="187.1" y="743.2" font-size="5.2" text-anchor="middle">170</text>
<text class="t" x="31.8" y="753.6" font-size="5.2" text-anchor="middle">0</text>
<text class="t" x="64.7" y="753.6" font-size="5.2" text-anchor="middle">200</text>
<text class="t" x="95.7" y="753.6" font-size="5.2" text-anchor="middle">300</text>
<text class="t" x="127.5" y="753.6" font-size="5.2" text-anchor="middle">400</text>
<text class="t" x="157.7" y="753.6" font-size="5.2" text-anchor="middle">500</text>
<text class="t" x="186.7" y="753.6" font-size="5.2" text-anchor="middle">600</text>
<text class="t" x="137.1" y="630.4" font-size="4.4" text-anchor="middle" fill="#666">H</text>
<text class="t" x="118.5" y="659.4" font-size="4.4" text-anchor="middle" fill="#666">η</text>
<text class="t" x="128.3" y="695.1" font-size="4.4" text-anchor="middle" fill="#666">N</text>
<text class="t" x="129.3" y="718.2" font-size="4.4" text-anchor="middle" fill="#666">NPSHr</text>
<text class="t" x="195" y="649.1" font-size="5.2" text-anchor="middle">η</text>
<text class="t" x="195" y="654" font-size="5.2" text-anchor="middle">(%)</text>
<text class="t" x="195" y="659.4" font-size="5.2" text-anchor="middle">75</text>
<text class="t" x="195" y="668.7" font-size="5.2" text-anchor="middle">65</text>
<text class="t" x="195" y="677.9" font-size="5.2" text-anchor="middle">55</text>
<text class="t" x="195" y="686.3" font-size="5.2" text-anchor="middle">45</text>
<text class="t" x="195" y="695.1" font-size="5.2" text-anchor="middle">35</text>
<text class="t" x="205.7" y="684.4" font-size="5" text-anchor="middle">Pa</text>
<text class="t" x="204.8" y="688.9" font-size="4.8" text-anchor="middle">(kW)</text>
<text class="t" x="207.5" y="695.5" font-size="5" text-anchor="middle">115</text>
<text class="t" x="207.5" y="704" font-size="5" text-anchor="middle">95</text>
<text class="t" x="207.5" y="712.8" font-size="5" text-anchor="middle">70</text>
<text class="t" x="207.5" y="721.2" font-size="5" text-anchor="middle">50</text>
<text class="t" x="205.7" y="741.2" font-size="5" text-anchor="middle">(L/S)</text>
<text class="t" x="195.9" y="745.1" font-size="5" text-anchor="middle">Q</text>
<text class="t" x="205.7" y="748.1" font-size="5" text-anchor="middle">(m³/h)</text>
</g>
<g>
<path class="g" d="M257.5 622.11V737.9M263.5 622.11V737.9M268.5 622.11V737.9M274.5 622.11V737.9M280.5 622.11V737.9M286.5 622.11V737.9M291.5 622.11V737.9M297.5 622.11V737.9M303.5 622.11V737.9M308.5 622.11V737.9M314.5 622.11V737.9M320.5 622.11V737.9M325.5 622.11V737.9M331.5 622.11V737.9M337.5 613.2V737.9M342.5 613.2V737.9M348.5 613.2V737.9M354.5 613.2V737.9M359.5 613.2V737.9M365.5 613.2V737.9M371.5 613.2V737.9M376.5 613.2V737.9M382.5 613.2V737.9M388.5 613.2V737.9M394.5 613.2V737.9M399.5 613.2V737.9M405.5 613.2V737.9M337.19 617.5H411.1M251.9 622.5H411.1M251.9 626.5H411.1M251.9 631.5H411.1M251.9 635.5H411.1M251.9 639.5H411.1M251.9 644.5H411.1M251.9 648.5H411.1M251.9 653.5H411.1M251.9 657.5H411.1M251.9 662.5H411.1M251.9 666.5H411.1M251.9 671.5H411.1M251.9 675.5H411.1M251.9 680.5H411.1M251.9 684.5H411.1M251.9 688.5H411.1M251.9 693.5H411.1M251.9 697.5H411.1M251.9 702.5H411.1M251.9 706.5H411.1M251.9 711.5H411.1M251.9 715.5H411.1M251.9 720.5H411.1M251.9 724.5H411.1M251.9 728.5H411.1M251.9 733.5H411.1" stroke="#262626" stroke-width="0.8"/>
<rect class="fr" x="251.9" y="613.2" width="159.2" height="124.7" stroke-width="1.35"/>
<path class="fr" d="M337.19 613.2V622.11M251.9 622.11H337.19" stroke-width="0.95"/>
<rect x="355.8" y="626.8" width="5" height="4.4" fill="#fbfbfb"/>
<rect x="337.9" y="655.5" width="5" height="4.4" fill="#fbfbfb"/>
<rect x="347.2" y="690.6" width="5" height="4.4" fill="#fbfbfb"/>
<rect x="343" y="713.3" width="16.5" height="5.6" fill="#fbfbfb"/>
<path class="ld" d="M348.4 640.3L353.3 632.8L361.1 632.8"/>
<path class="ld" d="M347.4 665.8L344.5 662.3L337.6 662.3"/>
<path class="ld" d="M359.2 701.1L355.3 696.2L347.4 696.2"/>
<path class="ld" d="M365.1 724.6L362.1 720.1L340.5 720.1"/>
<path class="cv" d="M251.9 640.3C253.95 639.97 259.2 638.85 264.2 638.3C269.2 637.75 276.02 637.22 281.9 637C287.78 636.78 293.62 636.92 299.5 637C305.38 637.08 311.5 637.22 317.2 637.5C322.9 637.78 328.33 638.13 333.7 638.7C339.07 639.27 344.17 639.82 349.4 640.9C354.63 641.98 359.88 643.5 365.1 645.2C370.32 646.9 375.8 648.98 380.7 651.1C385.6 653.22 390.9 655.78 394.5 657.9C398.1 660.02 400.02 661.5 402.3 663.8C404.58 666.1 407.22 670.38 408.2 671.7"/>
<path class="cv" d="M251.9 737.9C252.97 736.17 255.92 731.02 258.3 727.5C260.68 723.98 263.25 720.55 266.2 716.8C269.15 713.05 272.42 708.77 276 705C279.58 701.23 283.78 697.47 287.7 694.2C291.62 690.93 295.25 688.18 299.5 685.4C303.75 682.62 308.3 679.95 313.2 677.5C318.1 675.05 323.85 672.58 328.9 670.7C333.95 668.82 338.45 667.25 343.5 666.2C348.55 665.15 353.97 664.53 359.2 664.4C364.43 664.27 370 664.78 374.9 665.4C379.8 666.02 384.35 666.98 388.6 668.1C392.85 669.22 397.2 670.85 400.4 672.1C403.6 673.35 406.57 675.02 407.8 675.6"/>
<path class="cv" d="M251.9 719.7C255.27 719.05 265.47 717 272.1 715.8C278.73 714.6 285.17 713.58 291.7 712.5C298.23 711.42 304.77 710.3 311.3 709.3C317.83 708.3 326.52 707.15 330.9 706.5C335.28 705.85 333.22 706.23 337.6 705.4C341.98 704.57 350.67 702.72 357.2 701.5C363.73 700.28 370.27 699.15 376.8 698.1C383.33 697.05 391.1 696.02 396.4 695.2C401.7 694.38 406.57 693.53 408.6 693.2"/>
<path class="cv" d="M325.8 728.9C328.42 728.73 336.27 728.38 341.5 727.9C346.73 727.42 351.97 726.88 357.2 726C362.43 725.12 368 723.75 372.9 722.6C377.8 721.45 382.52 720.23 386.6 719.1C390.68 717.97 395.6 716.35 397.4 715.8"/>
<path class="ax" d="M251.9 747.7L411.1 747.7"/>
<path class="ax" d="M251.9 747.7L251.9 744.7"/>
<path class="ax" d="M267.82 747.7L267.82 744.7"/>
<path class="ax" d="M283.74 747.7L283.74 744.7"/>
<path class="ax" d="M299.66 747.7L299.66 744.7"/>
<path class="ax" d="M315.58 747.7L315.58 744.7"/>
<path class="ax" d="M331.5 747.7L331.5 744.7"/>
<path class="ax" d="M347.42 747.7L347.42 744.7"/>
<path class="ax" d="M363.34 747.7L363.34 744.7"/>
<path class="ax" d="M379.26 747.7L379.26 744.7"/>
<path class="ax" d="M395.18 747.7L395.18 744.7"/>
<path class="ax" d="M411.1 747.7L411.1 744.7"/>
<path class="ax" d="M246 710.9L248.5 710.9L248.5 737.9L246 737.9"/>
<path class="ax" d="M248.5 719.9L246.5 719.9"/>
<path class="ax" d="M248.5 728.9L246.5 728.9"/>
<path class="ax" d="M420.4 694.2L420.4 720.7"/>
<path class="ax" d="M420.4 694.2L422.9 694.2"/>
<path class="ax" d="M420.4 703L422.9 703"/>
<path class="ax" d="M420.4 711.9L422.9 711.9"/>
<path class="ax" d="M420.4 720.7L422.9 720.7"/>
<path d="M251.9 718.7L411.1 718.7" fill="none" stroke="#b05555" stroke-width="0.8" opacity="0.22"/>
<text class="s" x="294.5" y="619.6" font-size="5.8" text-anchor="middle" textLength="76" lengthAdjust="spacingAndGlyphs">300ZX550-55  n=1450r/min</text>
<text class="t" x="246.8" y="623" font-size="5.2" text-anchor="middle">H</text>
<text class="t" x="246.8" y="627.5" font-size="5.2" text-anchor="middle">(m)</text>
<text class="t" x="246.8" y="632.8" font-size="5.2" text-anchor="middle">63</text>
<text class="t" x="246.8" y="642.2" font-size="5.2" text-anchor="middle">59</text>
<text class="t" x="246.8" y="651" font-size="5.2" text-anchor="middle">55</text>
<text class="t" x="246.8" y="659.8" font-size="5.2" text-anchor="middle">51</text>
<text class="t" x="246.8" y="668.7" font-size="5.2" text-anchor="middle">47</text>
<text class="t" x="240.7" y="703" font-size="5" text-anchor="middle">NPSHr</text>
<text class="t" x="240.7" y="707.9" font-size="5" text-anchor="middle">(m)</text>
<text class="t" x="243.6" y="713.6" font-size="5" text-anchor="middle">5</text>
<text class="t" x="243.6" y="722.2" font-size="5" text-anchor="middle">4</text>
<text class="t" x="243.6" y="730.8" font-size="5" text-anchor="middle">3</text>
<text class="t" x="243.6" y="739.6" font-size="5" text-anchor="middle">2</text>
<text class="t" x="252.5" y="744.2" font-size="5.2" text-anchor="middle">0</text>
<text class="t" x="276" y="744.2" font-size="5.2" text-anchor="middle">60</text>
<text class="t" x="298.5" y="744.2" font-size="5.2" text-anchor="middle">80</text>
<text class="t" x="322.1" y="744.2" font-size="5.2" text-anchor="middle">100</text>
<text class="t" x="345.3" y="744.2" font-size="5.2" text-anchor="middle">120</text>
<text class="t" x="367" y="744.2" font-size="5.2" text-anchor="middle">140</text>
<text class="t" x="389.6" y="744.2" font-size="5.2" text-anchor="middle">160</text>
<text class="t" x="407.2" y="744.2" font-size="5.2" text-anchor="middle">180</text>
<text class="t" x="252.5" y="754.9" font-size="5.2" text-anchor="middle">0</text>
<text class="t" x="287.7" y="754.9" font-size="5.2" text-anchor="middle">250</text>
<text class="t" x="316.2" y="754.9" font-size="5.2" text-anchor="middle">350</text>
<text class="t" x="350.4" y="754.9" font-size="5.2" text-anchor="middle">450</text>
<text class="t" x="378.8" y="754.9" font-size="5.2" text-anchor="middle">550</text>
<text class="t" x="407.2" y="754.9" font-size="5.2" text-anchor="middle">650</text>
<text class="t" x="358.2" y="630.8" font-size="4.4" text-anchor="middle" fill="#666">H</text>
<text class="t" x="340.5" y="659.4" font-size="4.4" text-anchor="middle" fill="#666">η</text>
<text class="t" x="349.8" y="694.5" font-size="4.4" text-anchor="middle" fill="#666">N</text>
<text class="t" x="351.3" y="718" font-size="4.4" text-anchor="middle" fill="#666">NPSHr</text>
<text class="t" x="416" y="650.4" font-size="5.2" text-anchor="middle">η</text>
<text class="t" x="416" y="654.9" font-size="5.2" text-anchor="middle">(%)</text>
<text class="t" x="416" y="659.8" font-size="5.2" text-anchor="middle">75</text>
<text class="t" x="416" y="669.3" font-size="5.2" text-anchor="middle">65</text>
<text class="t" x="416" y="677.9" font-size="5.2" text-anchor="middle">55</text>
<text class="t" x="416" y="686.9" font-size="5.2" text-anchor="middle">45</text>
<text class="t" x="416" y="695.5" font-size="5.2" text-anchor="middle">35</text>
<text class="t" x="425.8" y="685.3" font-size="5" text-anchor="middle">Pa</text>
<text class="t" x="425.5" y="690.2" font-size="4.8" text-anchor="middle">(kW)</text>
<text class="t" x="429.4" y="696.1" font-size="5" text-anchor="middle">130</text>
<text class="t" x="429.4" y="704.9" font-size="5" text-anchor="middle">110</text>
<text class="t" x="429.4" y="713.8" font-size="5" text-anchor="middle">90</text>
<text class="t" x="429.4" y="722.6" font-size="5" text-anchor="middle">70</text>
<text class="t" x="425.8" y="742.2" font-size="5" text-anchor="middle">(L/S)</text>
<text class="t" x="417" y="746.7" font-size="5" text-anchor="middle">Q</text>
<text class="t" x="426.2" y="749.6" font-size="5" text-anchor="middle">(m³/h)</text>
</g>
</g>
</svg>
</body></html>
